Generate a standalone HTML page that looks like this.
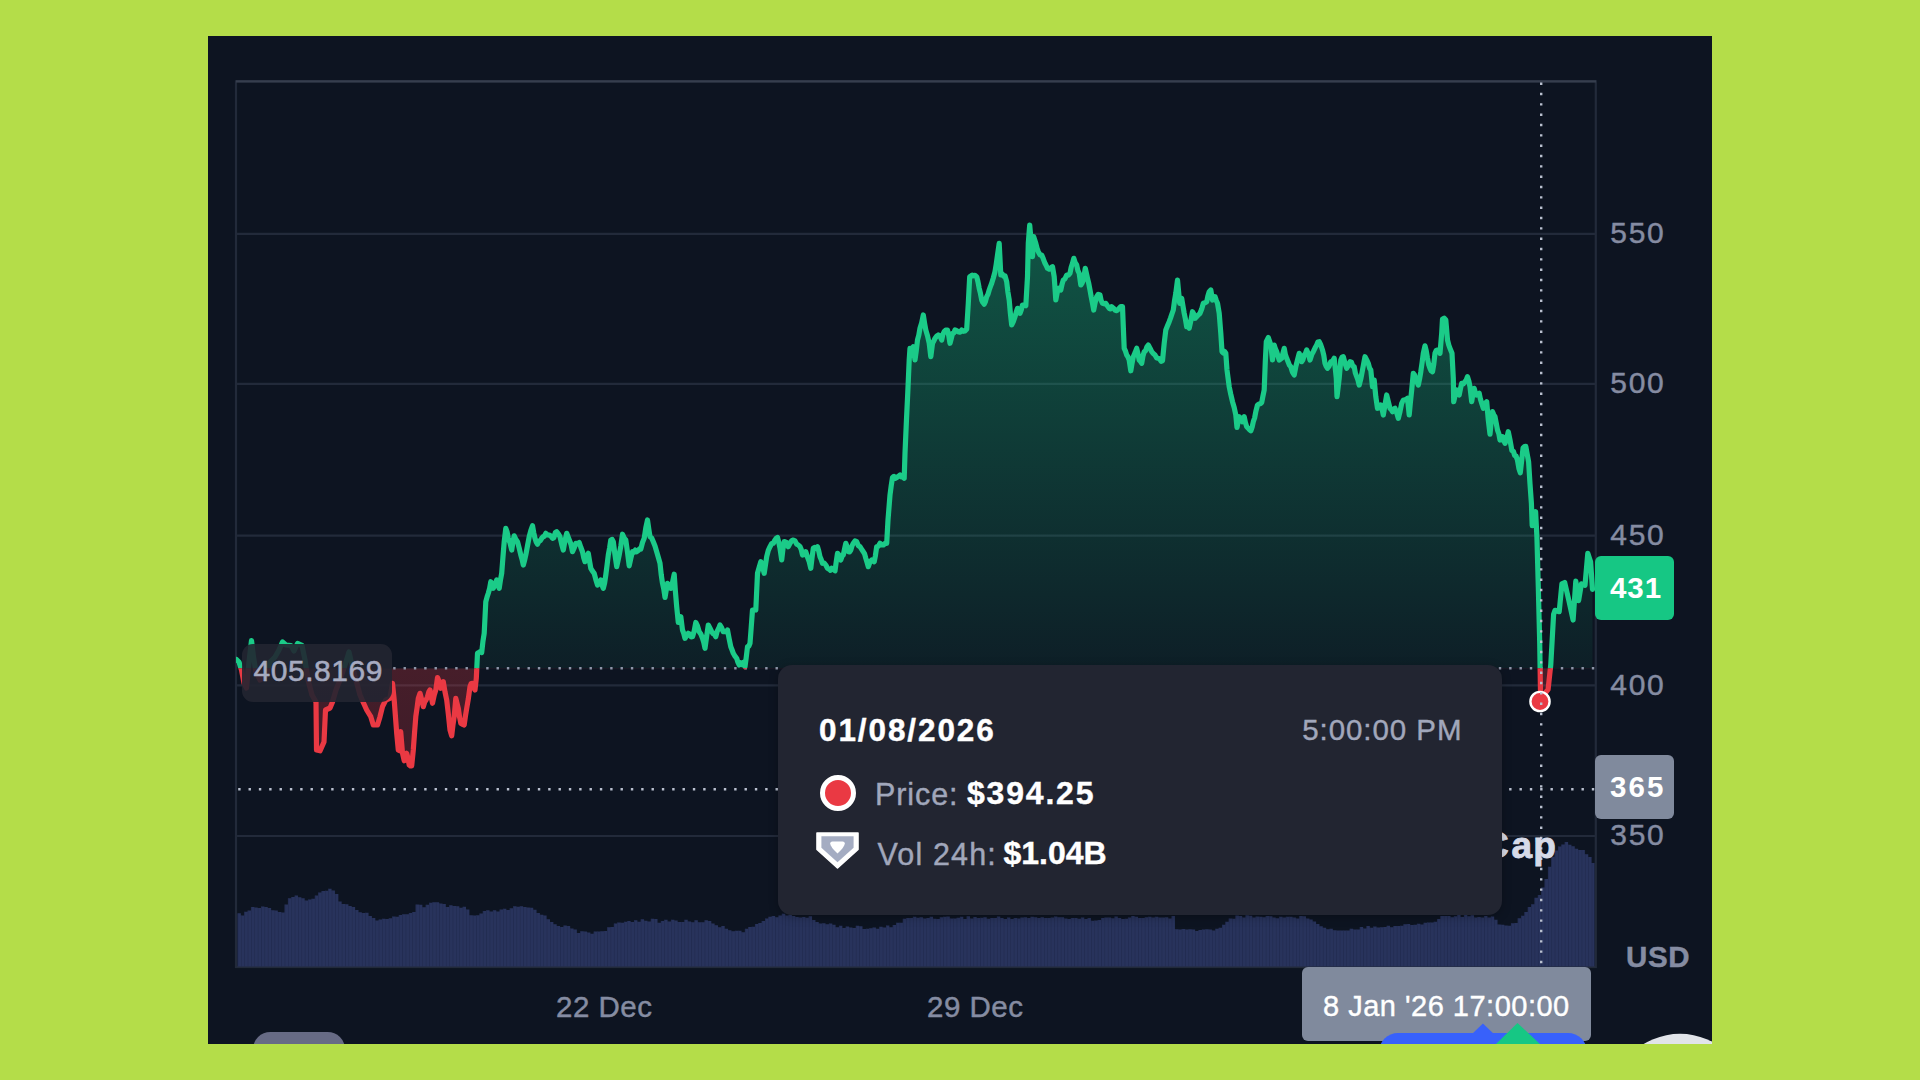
<!DOCTYPE html>
<html lang="en">
<head>
<meta charset="utf-8">
<title>Chart</title>
<style>
html,body{margin:0;padding:0;}
body{width:1920px;height:1080px;overflow:hidden;background:#b4dd49;font-family:"Liberation Sans",sans-serif;position:relative;}
#frame{position:absolute;left:208px;top:36px;width:1504px;height:1008px;background:#0d1421;overflow:hidden;}
#frame svg{position:absolute;left:-208px;top:-36px;width:1920px;height:1080px;}
.abs{position:absolute;white-space:nowrap;}
.ax{color:#858ca2;font-size:30px;letter-spacing:1.7px;line-height:30px;-webkit-text-stroke:0.45px #858ca2;}
.badge{position:absolute;border-radius:6px;color:#fff;font-weight:bold;font-size:29.5px;letter-spacing:1px;line-height:30px;text-align:center;}
#tip{position:absolute;left:570px;top:629px;width:724px;height:250px;background:#222531;border-radius:14px;box-shadow:0 2px 10px rgba(0,0,0,.25);}
</style>
</head>
<body>
<div id="frame">
<svg viewBox="0 0 1920 1080">
<defs>
<linearGradient id="gg" x1="0" y1="81" x2="0" y2="668.3" gradientUnits="userSpaceOnUse">
<stop offset="0" stop-color="#16c784" stop-opacity="0.47"/>
<stop offset="1" stop-color="#16c784" stop-opacity="0.06"/>
</linearGradient>
<linearGradient id="rg" x1="0" y1="668.3" x2="0" y2="770" gradientUnits="userSpaceOnUse">
<stop offset="0" stop-color="#ea3943" stop-opacity="0.26"/>
<stop offset="1" stop-color="#ea3943" stop-opacity="0.22"/>
</linearGradient>
<pattern id="stripe" x="237.5" y="0" width="3.36" height="10" patternUnits="userSpaceOnUse"><rect x="0" y="0" width="0.9" height="10" fill="#1d2748" opacity="0.55"/></pattern>
<clipPath id="volclip"><path d="M237.50,966.5V913.2H240.86V966.5ZM240.86,966.5V915.4H244.22V966.5ZM244.22,966.5V911.7H247.58V966.5ZM247.58,966.5V910.4H250.94V966.5ZM250.94,966.5V907.1H254.30V966.5ZM254.30,966.5V907.4H257.66V966.5ZM257.66,966.5V907.9H261.02V966.5ZM261.02,966.5V906.5H264.38V966.5ZM264.38,966.5V907.0H267.74V966.5ZM267.74,966.5V908.1H271.10V966.5ZM271.10,966.5V910.2H274.46V966.5ZM274.46,966.5V910.6H277.82V966.5ZM277.82,966.5V912.0H281.18V966.5ZM281.18,966.5V912.4H284.54V966.5ZM284.54,966.5V904.4H287.90V966.5ZM287.90,966.5V898.2H291.26V966.5ZM291.26,966.5V896.9H294.62V966.5ZM294.62,966.5V895.4H297.98V966.5ZM297.98,966.5V897.2H301.34V966.5ZM301.34,966.5V898.3H304.70V966.5ZM304.70,966.5V900.6H308.06V966.5ZM308.06,966.5V899.4H311.42V966.5ZM311.42,966.5V898.8H314.78V966.5ZM314.78,966.5V895.5H318.14V966.5ZM318.14,966.5V892.5H321.50V966.5ZM321.50,966.5V891.1H324.86V966.5ZM324.86,966.5V890.8H328.22V966.5ZM328.22,966.5V888.7H331.58V966.5ZM331.58,966.5V890.6H334.94V966.5ZM334.94,966.5V894.1H338.30V966.5ZM338.30,966.5V901.4H341.66V966.5ZM341.66,966.5V904.1H345.02V966.5ZM345.02,966.5V904.2H348.38V966.5ZM348.38,966.5V906.0H351.74V966.5ZM351.74,966.5V907.1H355.10V966.5ZM355.10,966.5V909.9H358.46V966.5ZM358.46,966.5V912.2H361.82V966.5ZM361.82,966.5V913.0H365.18V966.5ZM365.18,966.5V912.8H368.54V966.5ZM368.54,966.5V916.1H371.90V966.5ZM371.90,966.5V918.0H375.26V966.5ZM375.26,966.5V920.4H378.62V966.5ZM378.62,966.5V919.5H381.98V966.5ZM381.98,966.5V918.8H385.34V966.5ZM385.34,966.5V919.1H388.70V966.5ZM388.70,966.5V918.3H392.06V966.5ZM392.06,966.5V916.4H395.42V966.5ZM395.42,966.5V916.7H398.78V966.5ZM398.78,966.5V915.1H402.14V966.5ZM402.14,966.5V914.3H405.50V966.5ZM405.50,966.5V914.2H408.86V966.5ZM408.86,966.5V913.0H412.22V966.5ZM412.22,966.5V911.9H415.58V966.5ZM415.58,966.5V904.4H418.94V966.5ZM418.94,966.5V904.7H422.30V966.5ZM422.30,966.5V907.3H425.66V966.5ZM425.66,966.5V904.7H429.02V966.5ZM429.02,966.5V902.7H432.38V966.5ZM432.38,966.5V902.2H435.74V966.5ZM435.74,966.5V902.3H439.10V966.5ZM439.10,966.5V903.4H442.46V966.5ZM442.46,966.5V904.1H445.82V966.5ZM445.82,966.5V906.9H449.18V966.5ZM449.18,966.5V905.2H452.54V966.5ZM452.54,966.5V906.1H455.90V966.5ZM455.90,966.5V906.2H459.26V966.5ZM459.26,966.5V907.8H462.62V966.5ZM462.62,966.5V906.7H465.98V966.5ZM465.98,966.5V909.6H469.34V966.5ZM469.34,966.5V915.3H472.70V966.5ZM472.70,966.5V915.4H476.06V966.5ZM476.06,966.5V915.3H479.42V966.5ZM479.42,966.5V913.4H482.78V966.5ZM482.78,966.5V910.9H486.14V966.5ZM486.14,966.5V910.3H489.50V966.5ZM489.50,966.5V911.5H492.86V966.5ZM492.86,966.5V910.2H496.22V966.5ZM496.22,966.5V911.5H499.58V966.5ZM499.58,966.5V909.5H502.94V966.5ZM502.94,966.5V908.7H506.30V966.5ZM506.30,966.5V910.0H509.66V966.5ZM509.66,966.5V908.2H513.02V966.5ZM513.02,966.5V906.3H516.38V966.5ZM516.38,966.5V906.8H519.74V966.5ZM519.74,966.5V906.3H523.10V966.5ZM523.10,966.5V907.1H526.46V966.5ZM526.46,966.5V907.5H529.82V966.5ZM529.82,966.5V907.8H533.18V966.5ZM533.18,966.5V909.8H536.54V966.5ZM536.54,966.5V912.9H539.90V966.5ZM539.90,966.5V914.8H543.26V966.5ZM543.26,966.5V915.5H546.62V966.5ZM546.62,966.5V919.3H549.98V966.5ZM549.98,966.5V922.1H553.34V966.5ZM553.34,966.5V924.3H556.70V966.5ZM556.70,966.5V925.9H560.06V966.5ZM560.06,966.5V927.1H563.42V966.5ZM563.42,966.5V925.5H566.78V966.5ZM566.78,966.5V925.9H570.14V966.5ZM570.14,966.5V928.4H573.50V966.5ZM573.50,966.5V929.4H576.86V966.5ZM576.86,966.5V933.1H580.22V966.5ZM580.22,966.5V931.2H583.58V966.5ZM583.58,966.5V931.5H586.94V966.5ZM586.94,966.5V932.5H590.30V966.5ZM590.30,966.5V933.7H593.66V966.5ZM593.66,966.5V931.5H597.02V966.5ZM597.02,966.5V931.5H600.38V966.5ZM600.38,966.5V931.2H603.74V966.5ZM603.74,966.5V931.1H607.10V966.5ZM607.10,966.5V927.2H610.46V966.5ZM610.46,966.5V926.9H613.82V966.5ZM613.82,966.5V923.5H617.18V966.5ZM617.18,966.5V922.4H620.54V966.5ZM620.54,966.5V922.8H623.90V966.5ZM623.90,966.5V921.7H627.26V966.5ZM627.26,966.5V921.0H630.62V966.5ZM630.62,966.5V922.1H633.98V966.5ZM633.98,966.5V920.3H637.34V966.5ZM637.34,966.5V921.8H640.70V966.5ZM640.70,966.5V919.3H644.06V966.5ZM644.06,966.5V920.8H647.42V966.5ZM647.42,966.5V921.4H650.78V966.5ZM650.78,966.5V918.8H654.14V966.5ZM654.14,966.5V918.9H657.50V966.5ZM657.50,966.5V922.8H660.86V966.5ZM660.86,966.5V921.1H664.22V966.5ZM664.22,966.5V919.7H667.58V966.5ZM667.58,966.5V921.5H670.94V966.5ZM670.94,966.5V919.8H674.30V966.5ZM674.30,966.5V920.6H677.66V966.5ZM677.66,966.5V922.1H681.02V966.5ZM681.02,966.5V922.1H684.38V966.5ZM684.38,966.5V919.8H687.74V966.5ZM687.74,966.5V921.5H691.10V966.5ZM691.10,966.5V922.2H694.46V966.5ZM694.46,966.5V920.2H697.82V966.5ZM697.82,966.5V922.2H701.18V966.5ZM701.18,966.5V922.2H704.54V966.5ZM704.54,966.5V920.3H707.90V966.5ZM707.90,966.5V921.1H711.26V966.5ZM711.26,966.5V923.5H714.62V966.5ZM714.62,966.5V925.2H717.98V966.5ZM717.98,966.5V927.2H721.34V966.5ZM721.34,966.5V925.9H724.70V966.5ZM724.70,966.5V928.8H728.06V966.5ZM728.06,966.5V930.2H731.42V966.5ZM731.42,966.5V931.3H734.78V966.5ZM734.78,966.5V930.7H738.14V966.5ZM738.14,966.5V930.7H741.50V966.5ZM741.50,966.5V932.3H744.86V966.5ZM744.86,966.5V928.8H748.22V966.5ZM748.22,966.5V926.9H751.58V966.5ZM751.58,966.5V926.7H754.94V966.5ZM754.94,966.5V924.1H758.30V966.5ZM758.30,966.5V923.1H761.66V966.5ZM761.66,966.5V921.1H765.02V966.5ZM765.02,966.5V918.4H768.38V966.5ZM768.38,966.5V916.7H771.74V966.5ZM771.74,966.5V916.1H775.10V966.5ZM775.10,966.5V917.2H778.46V966.5ZM778.46,966.5V915.5H781.82V966.5ZM781.82,966.5V913.8H785.18V966.5ZM785.18,966.5V915.4H788.54V966.5ZM788.54,966.5V914.7H791.90V966.5ZM791.90,966.5V915.9H795.26V966.5ZM795.26,966.5V917.0H798.62V966.5ZM798.62,966.5V917.4H801.98V966.5ZM801.98,966.5V916.9H805.34V966.5ZM805.34,966.5V917.7H808.70V966.5ZM808.70,966.5V916.3H812.06V966.5ZM812.06,966.5V920.0H815.42V966.5ZM815.42,966.5V922.1H818.78V966.5ZM818.78,966.5V923.5H822.14V966.5ZM822.14,966.5V923.2H825.50V966.5ZM825.50,966.5V924.2H828.86V966.5ZM828.86,966.5V923.5H832.22V966.5ZM832.22,966.5V924.8H835.58V966.5ZM835.58,966.5V927.2H838.94V966.5ZM838.94,966.5V925.8H842.30V966.5ZM842.30,966.5V927.9H845.66V966.5ZM845.66,966.5V926.6H849.02V966.5ZM849.02,966.5V927.5H852.38V966.5ZM852.38,966.5V928.1H855.74V966.5ZM855.74,966.5V925.8H859.10V966.5ZM859.10,966.5V926.3H862.46V966.5ZM862.46,966.5V929.1H865.82V966.5ZM865.82,966.5V928.8H869.18V966.5ZM869.18,966.5V928.3H872.54V966.5ZM872.54,966.5V927.6H875.90V966.5ZM875.90,966.5V928.7H879.26V966.5ZM879.26,966.5V926.8H882.62V966.5ZM882.62,966.5V927.4H885.98V966.5ZM885.98,966.5V925.4H889.34V966.5ZM889.34,966.5V927.3H892.70V966.5ZM892.70,966.5V925.0H896.06V966.5ZM896.06,966.5V922.8H899.42V966.5ZM899.42,966.5V922.7H902.78V966.5ZM902.78,966.5V918.8H906.14V966.5ZM906.14,966.5V917.9H909.50V966.5ZM909.50,966.5V918.1H912.86V966.5ZM912.86,966.5V916.8H916.22V966.5ZM916.22,966.5V917.8H919.58V966.5ZM919.58,966.5V917.2H922.94V966.5ZM922.94,966.5V918.6H926.30V966.5ZM926.30,966.5V917.9H929.66V966.5ZM929.66,966.5V916.8H933.02V966.5ZM933.02,966.5V918.7H936.38V966.5ZM936.38,966.5V918.9H939.74V966.5ZM939.74,966.5V917.3H943.10V966.5ZM943.10,966.5V916.8H946.46V966.5ZM946.46,966.5V916.6H949.82V966.5ZM949.82,966.5V918.4H953.18V966.5ZM953.18,966.5V918.4H956.54V966.5ZM956.54,966.5V917.8H959.90V966.5ZM959.90,966.5V916.7H963.26V966.5ZM963.26,966.5V919.0H966.62V966.5ZM966.62,966.5V916.3H969.98V966.5ZM969.98,966.5V918.6H973.34V966.5ZM973.34,966.5V917.1H976.70V966.5ZM976.70,966.5V918.0H980.06V966.5ZM980.06,966.5V917.7H983.42V966.5ZM983.42,966.5V917.3H986.78V966.5ZM986.78,966.5V918.7H990.14V966.5ZM990.14,966.5V917.9H993.50V966.5ZM993.50,966.5V917.9H996.86V966.5ZM996.86,966.5V916.6H1000.22V966.5ZM1000.22,966.5V917.9H1003.58V966.5ZM1003.58,966.5V918.9H1006.94V966.5ZM1006.94,966.5V917.5H1010.30V966.5ZM1010.30,966.5V918.9H1013.66V966.5ZM1013.66,966.5V918.0H1017.02V966.5ZM1017.02,966.5V918.4H1020.38V966.5ZM1020.38,966.5V917.4H1023.74V966.5ZM1023.74,966.5V917.2H1027.10V966.5ZM1027.10,966.5V918.0H1030.46V966.5ZM1030.46,966.5V916.8H1033.82V966.5ZM1033.82,966.5V917.3H1037.18V966.5ZM1037.18,966.5V918.0H1040.54V966.5ZM1040.54,966.5V917.3H1043.90V966.5ZM1043.90,966.5V918.0H1047.26V966.5ZM1047.26,966.5V918.1H1050.62V966.5ZM1050.62,966.5V917.5H1053.98V966.5ZM1053.98,966.5V916.4H1057.34V966.5ZM1057.34,966.5V917.2H1060.70V966.5ZM1060.70,966.5V917.2H1064.06V966.5ZM1064.06,966.5V918.5H1067.42V966.5ZM1067.42,966.5V919.1H1070.78V966.5ZM1070.78,966.5V918.0H1074.14V966.5ZM1074.14,966.5V918.1H1077.50V966.5ZM1077.50,966.5V918.7H1080.86V966.5ZM1080.86,966.5V917.5H1084.22V966.5ZM1084.22,966.5V919.1H1087.58V966.5ZM1087.58,966.5V918.0H1090.94V966.5ZM1090.94,966.5V920.8H1094.30V966.5ZM1094.30,966.5V920.4H1097.66V966.5ZM1097.66,966.5V919.9H1101.02V966.5ZM1101.02,966.5V918.1H1104.38V966.5ZM1104.38,966.5V917.4H1107.74V966.5ZM1107.74,966.5V917.5H1111.10V966.5ZM1111.10,966.5V918.3H1114.46V966.5ZM1114.46,966.5V916.4H1117.82V966.5ZM1117.82,966.5V918.0H1121.18V966.5ZM1121.18,966.5V919.0H1124.54V966.5ZM1124.54,966.5V918.8H1127.90V966.5ZM1127.90,966.5V917.5H1131.26V966.5ZM1131.26,966.5V916.1H1134.62V966.5ZM1134.62,966.5V916.8H1137.98V966.5ZM1137.98,966.5V917.9H1141.34V966.5ZM1141.34,966.5V917.9H1144.70V966.5ZM1144.70,966.5V917.2H1148.06V966.5ZM1148.06,966.5V916.8H1151.42V966.5ZM1151.42,966.5V917.6H1154.78V966.5ZM1154.78,966.5V916.8H1158.14V966.5ZM1158.14,966.5V917.5H1161.50V966.5ZM1161.50,966.5V917.5H1164.86V966.5ZM1164.86,966.5V917.3H1168.22V966.5ZM1168.22,966.5V918.4H1171.58V966.5ZM1171.58,966.5V916.0H1174.94V966.5ZM1174.94,966.5V929.3H1178.30V966.5ZM1178.30,966.5V929.6H1181.66V966.5ZM1181.66,966.5V928.9H1185.02V966.5ZM1185.02,966.5V929.5H1188.38V966.5ZM1188.38,966.5V929.3H1191.74V966.5ZM1191.74,966.5V929.6H1195.10V966.5ZM1195.10,966.5V931.1H1198.46V966.5ZM1198.46,966.5V930.1H1201.82V966.5ZM1201.82,966.5V929.5H1205.18V966.5ZM1205.18,966.5V929.2H1208.54V966.5ZM1208.54,966.5V929.6H1211.90V966.5ZM1211.90,966.5V930.6H1215.26V966.5ZM1215.26,966.5V928.8H1218.62V966.5ZM1218.62,966.5V927.7H1221.98V966.5ZM1221.98,966.5V924.8H1225.34V966.5ZM1225.34,966.5V921.8H1228.70V966.5ZM1228.70,966.5V918.5H1232.06V966.5ZM1232.06,966.5V918.8H1235.42V966.5ZM1235.42,966.5V915.6H1238.78V966.5ZM1238.78,966.5V916.1H1242.14V966.5ZM1242.14,966.5V917.5H1245.50V966.5ZM1245.50,966.5V915.3H1248.86V966.5ZM1248.86,966.5V915.8H1252.22V966.5ZM1252.22,966.5V917.6H1255.58V966.5ZM1255.58,966.5V916.4H1258.94V966.5ZM1258.94,966.5V916.8H1262.30V966.5ZM1262.30,966.5V917.2H1265.66V966.5ZM1265.66,966.5V915.9H1269.02V966.5ZM1269.02,966.5V916.3H1272.38V966.5ZM1272.38,966.5V917.5H1275.74V966.5ZM1275.74,966.5V918.2H1279.10V966.5ZM1279.10,966.5V916.8H1282.46V966.5ZM1282.46,966.5V917.4H1285.82V966.5ZM1285.82,966.5V916.8H1289.18V966.5ZM1289.18,966.5V916.7H1292.54V966.5ZM1292.54,966.5V917.6H1295.90V966.5ZM1295.90,966.5V918.6H1299.26V966.5ZM1299.26,966.5V916.1H1302.62V966.5ZM1302.62,966.5V916.3H1305.98V966.5ZM1305.98,966.5V918.6H1309.34V966.5ZM1309.34,966.5V919.4H1312.70V966.5ZM1312.70,966.5V921.4H1316.06V966.5ZM1316.06,966.5V924.0H1319.42V966.5ZM1319.42,966.5V926.3H1322.78V966.5ZM1322.78,966.5V927.8H1326.14V966.5ZM1326.14,966.5V929.3H1329.50V966.5ZM1329.50,966.5V928.7H1332.86V966.5ZM1332.86,966.5V930.2H1336.22V966.5ZM1336.22,966.5V930.5H1339.58V966.5ZM1339.58,966.5V930.4H1342.94V966.5ZM1342.94,966.5V930.6H1346.30V966.5ZM1346.30,966.5V930.5H1349.66V966.5ZM1349.66,966.5V928.7H1353.02V966.5ZM1353.02,966.5V929.6H1356.38V966.5ZM1356.38,966.5V929.4H1359.74V966.5ZM1359.74,966.5V927.1H1363.10V966.5ZM1363.10,966.5V928.5H1366.46V966.5ZM1366.46,966.5V926.0H1369.82V966.5ZM1369.82,966.5V927.7H1373.18V966.5ZM1373.18,966.5V926.4H1376.54V966.5ZM1376.54,966.5V927.4H1379.90V966.5ZM1379.90,966.5V927.3H1383.26V966.5ZM1383.26,966.5V926.9H1386.62V966.5ZM1386.62,966.5V925.7H1389.98V966.5ZM1389.98,966.5V927.3H1393.34V966.5ZM1393.34,966.5V926.1H1396.70V966.5ZM1396.70,966.5V926.0H1400.06V966.5ZM1400.06,966.5V925.7H1403.42V966.5ZM1403.42,966.5V924.3H1406.78V966.5ZM1406.78,966.5V924.1H1410.14V966.5ZM1410.14,966.5V925.0H1413.50V966.5ZM1413.50,966.5V924.8H1416.86V966.5ZM1416.86,966.5V923.7H1420.22V966.5ZM1420.22,966.5V924.4H1423.58V966.5ZM1423.58,966.5V922.8H1426.94V966.5ZM1426.94,966.5V922.5H1430.30V966.5ZM1430.30,966.5V922.4H1433.66V966.5ZM1433.66,966.5V921.8H1437.02V966.5ZM1437.02,966.5V919.1H1440.38V966.5ZM1440.38,966.5V916.1H1443.74V966.5ZM1443.74,966.5V915.9H1447.10V966.5ZM1447.10,966.5V915.9H1450.46V966.5ZM1450.46,966.5V917.3H1453.82V966.5ZM1453.82,966.5V916.2H1457.18V966.5ZM1457.18,966.5V915.1H1460.54V966.5ZM1460.54,966.5V917.1H1463.90V966.5ZM1463.90,966.5V915.1H1467.26V966.5ZM1467.26,966.5V916.3H1470.62V966.5ZM1470.62,966.5V915.2H1473.98V966.5ZM1473.98,966.5V917.4H1477.34V966.5ZM1477.34,966.5V917.0H1480.70V966.5ZM1480.70,966.5V917.6H1484.06V966.5ZM1484.06,966.5V915.9H1487.42V966.5ZM1487.42,966.5V917.4H1490.78V966.5ZM1490.78,966.5V916.6H1494.14V966.5ZM1494.14,966.5V919.8H1497.50V966.5ZM1497.50,966.5V924.6H1500.86V966.5ZM1500.86,966.5V924.8H1504.22V966.5ZM1504.22,966.5V925.6H1507.58V966.5ZM1507.58,966.5V925.8H1510.94V966.5ZM1510.94,966.5V923.3H1514.30V966.5ZM1514.30,966.5V923.1H1517.66V966.5ZM1517.66,966.5V918.2H1521.02V966.5ZM1521.02,966.5V915.8H1524.38V966.5ZM1524.38,966.5V912.1H1527.74V966.5ZM1527.74,966.5V907.1H1531.10V966.5ZM1531.10,966.5V904.3H1534.46V966.5ZM1534.46,966.5V897.8H1537.82V966.5ZM1537.82,966.5V895.1H1541.18V966.5ZM1541.18,966.5V887.6H1544.54V966.5ZM1544.54,966.5V878.9H1547.90V966.5ZM1547.90,966.5V866.8H1551.26V966.5ZM1551.26,966.5V856.8H1554.62V966.5ZM1554.62,966.5V850.6H1557.98V966.5ZM1557.98,966.5V846.5H1561.34V966.5ZM1561.34,966.5V844.4H1564.70V966.5ZM1564.70,966.5V842.0H1568.06V966.5ZM1568.06,966.5V844.8H1571.42V966.5ZM1571.42,966.5V846.2H1574.78V966.5ZM1574.78,966.5V848.7H1578.14V966.5ZM1578.14,966.5V850.1H1581.50V966.5ZM1581.50,966.5V850.0H1584.86V966.5ZM1584.86,966.5V854.2H1588.22V966.5ZM1588.22,966.5V857.1H1591.58V966.5ZM1591.58,966.5V862.9H1594.50V966.5Z"/></clipPath>
<clipPath id="up"><rect x="236" y="81" width="1360" height="587.3"/></clipPath>
<clipPath id="dn"><rect x="236" y="668.3" width="1360" height="298.70000000000005"/></clipPath>
</defs>
<!-- grid -->
<g stroke="#222a3a" stroke-width="2.2" fill="none">
<line x1="236" y1="233.8" x2="1596" y2="233.8"/>
<line x1="236" y1="383.8" x2="1596" y2="383.8"/>
<line x1="236" y1="535.6" x2="1596" y2="535.6"/>
<line x1="236" y1="685.4" x2="1596" y2="685.4"/>
<line x1="236" y1="836" x2="1596" y2="836"/>
<rect x="236" y="81.3" width="1359.8" height="885.7"/>
</g>
<line x1="236" y1="81.3" x2="1596" y2="81.3" stroke="#363e4e" stroke-width="2.2"/>
<!-- volume -->
<path d="M237.50,966.5V913.2H240.86V966.5ZM240.86,966.5V915.4H244.22V966.5ZM244.22,966.5V911.7H247.58V966.5ZM247.58,966.5V910.4H250.94V966.5ZM250.94,966.5V907.1H254.30V966.5ZM254.30,966.5V907.4H257.66V966.5ZM257.66,966.5V907.9H261.02V966.5ZM261.02,966.5V906.5H264.38V966.5ZM264.38,966.5V907.0H267.74V966.5ZM267.74,966.5V908.1H271.10V966.5ZM271.10,966.5V910.2H274.46V966.5ZM274.46,966.5V910.6H277.82V966.5ZM277.82,966.5V912.0H281.18V966.5ZM281.18,966.5V912.4H284.54V966.5ZM284.54,966.5V904.4H287.90V966.5ZM287.90,966.5V898.2H291.26V966.5ZM291.26,966.5V896.9H294.62V966.5ZM294.62,966.5V895.4H297.98V966.5ZM297.98,966.5V897.2H301.34V966.5ZM301.34,966.5V898.3H304.70V966.5ZM304.70,966.5V900.6H308.06V966.5ZM308.06,966.5V899.4H311.42V966.5ZM311.42,966.5V898.8H314.78V966.5ZM314.78,966.5V895.5H318.14V966.5ZM318.14,966.5V892.5H321.50V966.5ZM321.50,966.5V891.1H324.86V966.5ZM324.86,966.5V890.8H328.22V966.5ZM328.22,966.5V888.7H331.58V966.5ZM331.58,966.5V890.6H334.94V966.5ZM334.94,966.5V894.1H338.30V966.5ZM338.30,966.5V901.4H341.66V966.5ZM341.66,966.5V904.1H345.02V966.5ZM345.02,966.5V904.2H348.38V966.5ZM348.38,966.5V906.0H351.74V966.5ZM351.74,966.5V907.1H355.10V966.5ZM355.10,966.5V909.9H358.46V966.5ZM358.46,966.5V912.2H361.82V966.5ZM361.82,966.5V913.0H365.18V966.5ZM365.18,966.5V912.8H368.54V966.5ZM368.54,966.5V916.1H371.90V966.5ZM371.90,966.5V918.0H375.26V966.5ZM375.26,966.5V920.4H378.62V966.5ZM378.62,966.5V919.5H381.98V966.5ZM381.98,966.5V918.8H385.34V966.5ZM385.34,966.5V919.1H388.70V966.5ZM388.70,966.5V918.3H392.06V966.5ZM392.06,966.5V916.4H395.42V966.5ZM395.42,966.5V916.7H398.78V966.5ZM398.78,966.5V915.1H402.14V966.5ZM402.14,966.5V914.3H405.50V966.5ZM405.50,966.5V914.2H408.86V966.5ZM408.86,966.5V913.0H412.22V966.5ZM412.22,966.5V911.9H415.58V966.5ZM415.58,966.5V904.4H418.94V966.5ZM418.94,966.5V904.7H422.30V966.5ZM422.30,966.5V907.3H425.66V966.5ZM425.66,966.5V904.7H429.02V966.5ZM429.02,966.5V902.7H432.38V966.5ZM432.38,966.5V902.2H435.74V966.5ZM435.74,966.5V902.3H439.10V966.5ZM439.10,966.5V903.4H442.46V966.5ZM442.46,966.5V904.1H445.82V966.5ZM445.82,966.5V906.9H449.18V966.5ZM449.18,966.5V905.2H452.54V966.5ZM452.54,966.5V906.1H455.90V966.5ZM455.90,966.5V906.2H459.26V966.5ZM459.26,966.5V907.8H462.62V966.5ZM462.62,966.5V906.7H465.98V966.5ZM465.98,966.5V909.6H469.34V966.5ZM469.34,966.5V915.3H472.70V966.5ZM472.70,966.5V915.4H476.06V966.5ZM476.06,966.5V915.3H479.42V966.5ZM479.42,966.5V913.4H482.78V966.5ZM482.78,966.5V910.9H486.14V966.5ZM486.14,966.5V910.3H489.50V966.5ZM489.50,966.5V911.5H492.86V966.5ZM492.86,966.5V910.2H496.22V966.5ZM496.22,966.5V911.5H499.58V966.5ZM499.58,966.5V909.5H502.94V966.5ZM502.94,966.5V908.7H506.30V966.5ZM506.30,966.5V910.0H509.66V966.5ZM509.66,966.5V908.2H513.02V966.5ZM513.02,966.5V906.3H516.38V966.5ZM516.38,966.5V906.8H519.74V966.5ZM519.74,966.5V906.3H523.10V966.5ZM523.10,966.5V907.1H526.46V966.5ZM526.46,966.5V907.5H529.82V966.5ZM529.82,966.5V907.8H533.18V966.5ZM533.18,966.5V909.8H536.54V966.5ZM536.54,966.5V912.9H539.90V966.5ZM539.90,966.5V914.8H543.26V966.5ZM543.26,966.5V915.5H546.62V966.5ZM546.62,966.5V919.3H549.98V966.5ZM549.98,966.5V922.1H553.34V966.5ZM553.34,966.5V924.3H556.70V966.5ZM556.70,966.5V925.9H560.06V966.5ZM560.06,966.5V927.1H563.42V966.5ZM563.42,966.5V925.5H566.78V966.5ZM566.78,966.5V925.9H570.14V966.5ZM570.14,966.5V928.4H573.50V966.5ZM573.50,966.5V929.4H576.86V966.5ZM576.86,966.5V933.1H580.22V966.5ZM580.22,966.5V931.2H583.58V966.5ZM583.58,966.5V931.5H586.94V966.5ZM586.94,966.5V932.5H590.30V966.5ZM590.30,966.5V933.7H593.66V966.5ZM593.66,966.5V931.5H597.02V966.5ZM597.02,966.5V931.5H600.38V966.5ZM600.38,966.5V931.2H603.74V966.5ZM603.74,966.5V931.1H607.10V966.5ZM607.10,966.5V927.2H610.46V966.5ZM610.46,966.5V926.9H613.82V966.5ZM613.82,966.5V923.5H617.18V966.5ZM617.18,966.5V922.4H620.54V966.5ZM620.54,966.5V922.8H623.90V966.5ZM623.90,966.5V921.7H627.26V966.5ZM627.26,966.5V921.0H630.62V966.5ZM630.62,966.5V922.1H633.98V966.5ZM633.98,966.5V920.3H637.34V966.5ZM637.34,966.5V921.8H640.70V966.5ZM640.70,966.5V919.3H644.06V966.5ZM644.06,966.5V920.8H647.42V966.5ZM647.42,966.5V921.4H650.78V966.5ZM650.78,966.5V918.8H654.14V966.5ZM654.14,966.5V918.9H657.50V966.5ZM657.50,966.5V922.8H660.86V966.5ZM660.86,966.5V921.1H664.22V966.5ZM664.22,966.5V919.7H667.58V966.5ZM667.58,966.5V921.5H670.94V966.5ZM670.94,966.5V919.8H674.30V966.5ZM674.30,966.5V920.6H677.66V966.5ZM677.66,966.5V922.1H681.02V966.5ZM681.02,966.5V922.1H684.38V966.5ZM684.38,966.5V919.8H687.74V966.5ZM687.74,966.5V921.5H691.10V966.5ZM691.10,966.5V922.2H694.46V966.5ZM694.46,966.5V920.2H697.82V966.5ZM697.82,966.5V922.2H701.18V966.5ZM701.18,966.5V922.2H704.54V966.5ZM704.54,966.5V920.3H707.90V966.5ZM707.90,966.5V921.1H711.26V966.5ZM711.26,966.5V923.5H714.62V966.5ZM714.62,966.5V925.2H717.98V966.5ZM717.98,966.5V927.2H721.34V966.5ZM721.34,966.5V925.9H724.70V966.5ZM724.70,966.5V928.8H728.06V966.5ZM728.06,966.5V930.2H731.42V966.5ZM731.42,966.5V931.3H734.78V966.5ZM734.78,966.5V930.7H738.14V966.5ZM738.14,966.5V930.7H741.50V966.5ZM741.50,966.5V932.3H744.86V966.5ZM744.86,966.5V928.8H748.22V966.5ZM748.22,966.5V926.9H751.58V966.5ZM751.58,966.5V926.7H754.94V966.5ZM754.94,966.5V924.1H758.30V966.5ZM758.30,966.5V923.1H761.66V966.5ZM761.66,966.5V921.1H765.02V966.5ZM765.02,966.5V918.4H768.38V966.5ZM768.38,966.5V916.7H771.74V966.5ZM771.74,966.5V916.1H775.10V966.5ZM775.10,966.5V917.2H778.46V966.5ZM778.46,966.5V915.5H781.82V966.5ZM781.82,966.5V913.8H785.18V966.5ZM785.18,966.5V915.4H788.54V966.5ZM788.54,966.5V914.7H791.90V966.5ZM791.90,966.5V915.9H795.26V966.5ZM795.26,966.5V917.0H798.62V966.5ZM798.62,966.5V917.4H801.98V966.5ZM801.98,966.5V916.9H805.34V966.5ZM805.34,966.5V917.7H808.70V966.5ZM808.70,966.5V916.3H812.06V966.5ZM812.06,966.5V920.0H815.42V966.5ZM815.42,966.5V922.1H818.78V966.5ZM818.78,966.5V923.5H822.14V966.5ZM822.14,966.5V923.2H825.50V966.5ZM825.50,966.5V924.2H828.86V966.5ZM828.86,966.5V923.5H832.22V966.5ZM832.22,966.5V924.8H835.58V966.5ZM835.58,966.5V927.2H838.94V966.5ZM838.94,966.5V925.8H842.30V966.5ZM842.30,966.5V927.9H845.66V966.5ZM845.66,966.5V926.6H849.02V966.5ZM849.02,966.5V927.5H852.38V966.5ZM852.38,966.5V928.1H855.74V966.5ZM855.74,966.5V925.8H859.10V966.5ZM859.10,966.5V926.3H862.46V966.5ZM862.46,966.5V929.1H865.82V966.5ZM865.82,966.5V928.8H869.18V966.5ZM869.18,966.5V928.3H872.54V966.5ZM872.54,966.5V927.6H875.90V966.5ZM875.90,966.5V928.7H879.26V966.5ZM879.26,966.5V926.8H882.62V966.5ZM882.62,966.5V927.4H885.98V966.5ZM885.98,966.5V925.4H889.34V966.5ZM889.34,966.5V927.3H892.70V966.5ZM892.70,966.5V925.0H896.06V966.5ZM896.06,966.5V922.8H899.42V966.5ZM899.42,966.5V922.7H902.78V966.5ZM902.78,966.5V918.8H906.14V966.5ZM906.14,966.5V917.9H909.50V966.5ZM909.50,966.5V918.1H912.86V966.5ZM912.86,966.5V916.8H916.22V966.5ZM916.22,966.5V917.8H919.58V966.5ZM919.58,966.5V917.2H922.94V966.5ZM922.94,966.5V918.6H926.30V966.5ZM926.30,966.5V917.9H929.66V966.5ZM929.66,966.5V916.8H933.02V966.5ZM933.02,966.5V918.7H936.38V966.5ZM936.38,966.5V918.9H939.74V966.5ZM939.74,966.5V917.3H943.10V966.5ZM943.10,966.5V916.8H946.46V966.5ZM946.46,966.5V916.6H949.82V966.5ZM949.82,966.5V918.4H953.18V966.5ZM953.18,966.5V918.4H956.54V966.5ZM956.54,966.5V917.8H959.90V966.5ZM959.90,966.5V916.7H963.26V966.5ZM963.26,966.5V919.0H966.62V966.5ZM966.62,966.5V916.3H969.98V966.5ZM969.98,966.5V918.6H973.34V966.5ZM973.34,966.5V917.1H976.70V966.5ZM976.70,966.5V918.0H980.06V966.5ZM980.06,966.5V917.7H983.42V966.5ZM983.42,966.5V917.3H986.78V966.5ZM986.78,966.5V918.7H990.14V966.5ZM990.14,966.5V917.9H993.50V966.5ZM993.50,966.5V917.9H996.86V966.5ZM996.86,966.5V916.6H1000.22V966.5ZM1000.22,966.5V917.9H1003.58V966.5ZM1003.58,966.5V918.9H1006.94V966.5ZM1006.94,966.5V917.5H1010.30V966.5ZM1010.30,966.5V918.9H1013.66V966.5ZM1013.66,966.5V918.0H1017.02V966.5ZM1017.02,966.5V918.4H1020.38V966.5ZM1020.38,966.5V917.4H1023.74V966.5ZM1023.74,966.5V917.2H1027.10V966.5ZM1027.10,966.5V918.0H1030.46V966.5ZM1030.46,966.5V916.8H1033.82V966.5ZM1033.82,966.5V917.3H1037.18V966.5ZM1037.18,966.5V918.0H1040.54V966.5ZM1040.54,966.5V917.3H1043.90V966.5ZM1043.90,966.5V918.0H1047.26V966.5ZM1047.26,966.5V918.1H1050.62V966.5ZM1050.62,966.5V917.5H1053.98V966.5ZM1053.98,966.5V916.4H1057.34V966.5ZM1057.34,966.5V917.2H1060.70V966.5ZM1060.70,966.5V917.2H1064.06V966.5ZM1064.06,966.5V918.5H1067.42V966.5ZM1067.42,966.5V919.1H1070.78V966.5ZM1070.78,966.5V918.0H1074.14V966.5ZM1074.14,966.5V918.1H1077.50V966.5ZM1077.50,966.5V918.7H1080.86V966.5ZM1080.86,966.5V917.5H1084.22V966.5ZM1084.22,966.5V919.1H1087.58V966.5ZM1087.58,966.5V918.0H1090.94V966.5ZM1090.94,966.5V920.8H1094.30V966.5ZM1094.30,966.5V920.4H1097.66V966.5ZM1097.66,966.5V919.9H1101.02V966.5ZM1101.02,966.5V918.1H1104.38V966.5ZM1104.38,966.5V917.4H1107.74V966.5ZM1107.74,966.5V917.5H1111.10V966.5ZM1111.10,966.5V918.3H1114.46V966.5ZM1114.46,966.5V916.4H1117.82V966.5ZM1117.82,966.5V918.0H1121.18V966.5ZM1121.18,966.5V919.0H1124.54V966.5ZM1124.54,966.5V918.8H1127.90V966.5ZM1127.90,966.5V917.5H1131.26V966.5ZM1131.26,966.5V916.1H1134.62V966.5ZM1134.62,966.5V916.8H1137.98V966.5ZM1137.98,966.5V917.9H1141.34V966.5ZM1141.34,966.5V917.9H1144.70V966.5ZM1144.70,966.5V917.2H1148.06V966.5ZM1148.06,966.5V916.8H1151.42V966.5ZM1151.42,966.5V917.6H1154.78V966.5ZM1154.78,966.5V916.8H1158.14V966.5ZM1158.14,966.5V917.5H1161.50V966.5ZM1161.50,966.5V917.5H1164.86V966.5ZM1164.86,966.5V917.3H1168.22V966.5ZM1168.22,966.5V918.4H1171.58V966.5ZM1171.58,966.5V916.0H1174.94V966.5ZM1174.94,966.5V929.3H1178.30V966.5ZM1178.30,966.5V929.6H1181.66V966.5ZM1181.66,966.5V928.9H1185.02V966.5ZM1185.02,966.5V929.5H1188.38V966.5ZM1188.38,966.5V929.3H1191.74V966.5ZM1191.74,966.5V929.6H1195.10V966.5ZM1195.10,966.5V931.1H1198.46V966.5ZM1198.46,966.5V930.1H1201.82V966.5ZM1201.82,966.5V929.5H1205.18V966.5ZM1205.18,966.5V929.2H1208.54V966.5ZM1208.54,966.5V929.6H1211.90V966.5ZM1211.90,966.5V930.6H1215.26V966.5ZM1215.26,966.5V928.8H1218.62V966.5ZM1218.62,966.5V927.7H1221.98V966.5ZM1221.98,966.5V924.8H1225.34V966.5ZM1225.34,966.5V921.8H1228.70V966.5ZM1228.70,966.5V918.5H1232.06V966.5ZM1232.06,966.5V918.8H1235.42V966.5ZM1235.42,966.5V915.6H1238.78V966.5ZM1238.78,966.5V916.1H1242.14V966.5ZM1242.14,966.5V917.5H1245.50V966.5ZM1245.50,966.5V915.3H1248.86V966.5ZM1248.86,966.5V915.8H1252.22V966.5ZM1252.22,966.5V917.6H1255.58V966.5ZM1255.58,966.5V916.4H1258.94V966.5ZM1258.94,966.5V916.8H1262.30V966.5ZM1262.30,966.5V917.2H1265.66V966.5ZM1265.66,966.5V915.9H1269.02V966.5ZM1269.02,966.5V916.3H1272.38V966.5ZM1272.38,966.5V917.5H1275.74V966.5ZM1275.74,966.5V918.2H1279.10V966.5ZM1279.10,966.5V916.8H1282.46V966.5ZM1282.46,966.5V917.4H1285.82V966.5ZM1285.82,966.5V916.8H1289.18V966.5ZM1289.18,966.5V916.7H1292.54V966.5ZM1292.54,966.5V917.6H1295.90V966.5ZM1295.90,966.5V918.6H1299.26V966.5ZM1299.26,966.5V916.1H1302.62V966.5ZM1302.62,966.5V916.3H1305.98V966.5ZM1305.98,966.5V918.6H1309.34V966.5ZM1309.34,966.5V919.4H1312.70V966.5ZM1312.70,966.5V921.4H1316.06V966.5ZM1316.06,966.5V924.0H1319.42V966.5ZM1319.42,966.5V926.3H1322.78V966.5ZM1322.78,966.5V927.8H1326.14V966.5ZM1326.14,966.5V929.3H1329.50V966.5ZM1329.50,966.5V928.7H1332.86V966.5ZM1332.86,966.5V930.2H1336.22V966.5ZM1336.22,966.5V930.5H1339.58V966.5ZM1339.58,966.5V930.4H1342.94V966.5ZM1342.94,966.5V930.6H1346.30V966.5ZM1346.30,966.5V930.5H1349.66V966.5ZM1349.66,966.5V928.7H1353.02V966.5ZM1353.02,966.5V929.6H1356.38V966.5ZM1356.38,966.5V929.4H1359.74V966.5ZM1359.74,966.5V927.1H1363.10V966.5ZM1363.10,966.5V928.5H1366.46V966.5ZM1366.46,966.5V926.0H1369.82V966.5ZM1369.82,966.5V927.7H1373.18V966.5ZM1373.18,966.5V926.4H1376.54V966.5ZM1376.54,966.5V927.4H1379.90V966.5ZM1379.90,966.5V927.3H1383.26V966.5ZM1383.26,966.5V926.9H1386.62V966.5ZM1386.62,966.5V925.7H1389.98V966.5ZM1389.98,966.5V927.3H1393.34V966.5ZM1393.34,966.5V926.1H1396.70V966.5ZM1396.70,966.5V926.0H1400.06V966.5ZM1400.06,966.5V925.7H1403.42V966.5ZM1403.42,966.5V924.3H1406.78V966.5ZM1406.78,966.5V924.1H1410.14V966.5ZM1410.14,966.5V925.0H1413.50V966.5ZM1413.50,966.5V924.8H1416.86V966.5ZM1416.86,966.5V923.7H1420.22V966.5ZM1420.22,966.5V924.4H1423.58V966.5ZM1423.58,966.5V922.8H1426.94V966.5ZM1426.94,966.5V922.5H1430.30V966.5ZM1430.30,966.5V922.4H1433.66V966.5ZM1433.66,966.5V921.8H1437.02V966.5ZM1437.02,966.5V919.1H1440.38V966.5ZM1440.38,966.5V916.1H1443.74V966.5ZM1443.74,966.5V915.9H1447.10V966.5ZM1447.10,966.5V915.9H1450.46V966.5ZM1450.46,966.5V917.3H1453.82V966.5ZM1453.82,966.5V916.2H1457.18V966.5ZM1457.18,966.5V915.1H1460.54V966.5ZM1460.54,966.5V917.1H1463.90V966.5ZM1463.90,966.5V915.1H1467.26V966.5ZM1467.26,966.5V916.3H1470.62V966.5ZM1470.62,966.5V915.2H1473.98V966.5ZM1473.98,966.5V917.4H1477.34V966.5ZM1477.34,966.5V917.0H1480.70V966.5ZM1480.70,966.5V917.6H1484.06V966.5ZM1484.06,966.5V915.9H1487.42V966.5ZM1487.42,966.5V917.4H1490.78V966.5ZM1490.78,966.5V916.6H1494.14V966.5ZM1494.14,966.5V919.8H1497.50V966.5ZM1497.50,966.5V924.6H1500.86V966.5ZM1500.86,966.5V924.8H1504.22V966.5ZM1504.22,966.5V925.6H1507.58V966.5ZM1507.58,966.5V925.8H1510.94V966.5ZM1510.94,966.5V923.3H1514.30V966.5ZM1514.30,966.5V923.1H1517.66V966.5ZM1517.66,966.5V918.2H1521.02V966.5ZM1521.02,966.5V915.8H1524.38V966.5ZM1524.38,966.5V912.1H1527.74V966.5ZM1527.74,966.5V907.1H1531.10V966.5ZM1531.10,966.5V904.3H1534.46V966.5ZM1534.46,966.5V897.8H1537.82V966.5ZM1537.82,966.5V895.1H1541.18V966.5ZM1541.18,966.5V887.6H1544.54V966.5ZM1544.54,966.5V878.9H1547.90V966.5ZM1547.90,966.5V866.8H1551.26V966.5ZM1551.26,966.5V856.8H1554.62V966.5ZM1554.62,966.5V850.6H1557.98V966.5ZM1557.98,966.5V846.5H1561.34V966.5ZM1561.34,966.5V844.4H1564.70V966.5ZM1564.70,966.5V842.0H1568.06V966.5ZM1568.06,966.5V844.8H1571.42V966.5ZM1571.42,966.5V846.2H1574.78V966.5ZM1574.78,966.5V848.7H1578.14V966.5ZM1578.14,966.5V850.1H1581.50V966.5ZM1581.50,966.5V850.0H1584.86V966.5ZM1584.86,966.5V854.2H1588.22V966.5ZM1588.22,966.5V857.1H1591.58V966.5ZM1591.58,966.5V862.9H1594.50V966.5Z" fill="#28335c"/>
<g clip-path="url(#volclip)"><rect x="237.5" y="840" width="1357" height="127" fill="url(#stripe)"/></g>
<!-- areas -->
<g clip-path="url(#up)"><path d="M236.5,659.5 L239.0,662.0 L241.5,670.0 L244.0,683.0 L246.5,688.0 L249.0,662.0 L251.5,640.5 L253.5,657.0 L256.0,672.0 L260.0,680.0 L266.0,676.0 L270.0,662.0 L275.0,657.0 L279.0,650.0 L282.5,642.0 L286.0,645.0 L291.0,645.5 L294.0,651.0 L297.5,643.5 L302.0,645.5 L305.0,660.0 L308.0,680.0 L312.0,695.0 L316.0,702.0 L316.5,750.0 L320.0,750.8 L324.0,742.0 L325.5,710.0 L330.0,708.0 L332.5,702.0 L336.0,690.0 L340.0,680.0 L345.0,665.0 L349.0,652.0 L352.0,665.0 L356.0,680.0 L360.0,695.0 L363.3,702.5 L366.7,710.0 L370.8,716.7 L373.3,725.0 L377.5,725.0 L380.0,716.7 L382.5,706.7 L385.8,700.0 L390.0,698.3 L392.5,683.3 L394.2,700.0 L396.7,733.3 L398.3,750.0 L399.7,750.8 L400.7,731.7 L402.5,753.3 L404.2,760.8 L405.4,756.5 L406.7,753.3 L407.9,758.0 L409.2,765.0 L410.4,765.9 L411.7,765.8 L413.3,750.0 L414.6,732.0 L415.8,716.7 L417.1,707.6 L418.3,698.3 L420.0,693.3 L421.7,699.6 L423.3,706.7 L424.7,701.9 L426.1,700.0 L427.5,696.7 L428.8,691.9 L430.0,690.0 L431.2,696.5 L432.5,703.3 L434.2,695.3 L435.8,690.0 L437.5,677.5 L439.2,681.6 L440.8,688.3 L442.1,684.8 L443.3,681.7 L445.0,691.9 L446.7,700.0 L448.3,713.8 L450.0,730.0 L451.7,735.8 L452.9,725.4 L454.2,716.7 L455.8,698.3 L457.1,703.7 L458.3,708.3 L459.6,717.3 L460.8,723.3 L462.5,724.4 L464.2,725.0 L465.4,716.3 L466.7,708.3 L468.3,699.0 L470.0,686.7 L471.2,683.5 L472.5,683.3 L473.8,687.8 L475.0,690.0 L476.3,678.3 L477.5,653.3 L478.9,652.4 L480.3,651.6 L481.7,652.5 L482.9,641.7 L484.2,633.3 L485.8,601.7 L487.1,596.9 L488.3,593.3 L489.6,588.5 L490.8,581.7 L492.1,584.0 L493.3,588.3 L495.0,584.4 L496.7,580.0 L497.9,584.6 L499.2,588.3 L500.4,580.4 L501.7,573.3 L502.9,557.7 L504.2,541.7 L505.8,528.3 L507.1,531.9 L508.3,538.3 L510.0,542.8 L511.7,550.0 L512.9,542.0 L514.2,535.8 L515.8,539.3 L517.5,541.7 L519.2,548.1 L520.8,555.0 L522.1,559.4 L523.3,565.0 L524.6,560.3 L525.8,555.0 L527.5,545.7 L529.2,536.7 L530.8,530.6 L532.5,525.8 L533.8,533.0 L535.0,538.3 L536.2,541.9 L537.5,544.2 L538.9,541.4 L540.3,540.5 L541.7,538.3 L543.1,536.7 L544.4,536.2 L545.8,533.3 L547.5,534.9 L549.2,535.0 L550.8,536.0 L552.5,538.3 L553.9,537.6 L555.3,532.7 L556.7,531.7 L558.3,533.9 L560.0,536.7 L561.7,544.2 L563.3,550.0 L565.0,540.6 L566.7,533.3 L568.3,537.5 L570.0,541.7 L571.2,545.2 L572.5,551.7 L574.2,548.0 L575.8,543.3 L577.5,543.8 L579.2,542.5 L580.8,547.3 L582.5,551.7 L583.8,557.9 L585.0,561.7 L586.7,556.9 L588.3,553.3 L589.6,561.5 L590.8,568.3 L592.5,571.1 L594.2,573.3 L595.8,579.4 L597.5,585.0 L599.2,582.4 L600.8,580.0 L602.1,585.3 L603.3,588.3 L604.6,583.1 L605.8,575.0 L607.1,564.9 L608.3,555.0 L609.6,548.0 L610.8,540.0 L612.1,539.4 L613.3,541.7 L615.0,554.8 L616.7,566.7 L617.9,561.3 L619.2,555.0 L620.8,546.2 L622.5,534.2 L624.2,538.1 L625.8,540.0 L627.5,552.2 L629.2,565.8 L630.8,558.4 L632.5,551.7 L633.9,552.2 L635.3,550.1 L636.7,551.7 L638.1,550.7 L639.4,548.9 L640.8,549.2 L642.5,542.5 L644.2,538.3 L645.8,527.8 L647.5,520.0 L648.8,529.2 L650.0,536.7 L651.7,538.0 L653.3,541.7 L655.0,545.9 L656.7,551.7 L658.3,557.2 L660.0,563.3 L661.2,574.5 L662.5,583.3 L663.8,589.1 L665.0,597.5 L666.2,590.3 L667.5,583.3 L669.2,586.0 L670.8,588.3 L672.5,582.5 L674.2,574.2 L675.4,591.4 L676.7,606.7 L678.3,622.5 L679.6,620.7 L680.8,616.7 L682.5,630.0 L683.8,633.5 L685.0,638.3 L686.7,635.6 L688.3,633.3 L689.7,634.0 L691.1,636.8 L692.5,636.7 L694.2,631.0 L695.8,622.5 L697.5,626.0 L699.2,631.7 L700.8,634.0 L702.5,638.3 L703.8,642.5 L705.0,648.3 L706.7,635.8 L708.3,625.0 L710.0,628.3 L711.7,631.7 L713.1,633.6 L714.4,634.2 L715.8,636.7 L717.2,631.2 L718.6,628.6 L720.0,625.0 L721.7,627.9 L723.3,631.7 L724.7,631.3 L726.1,632.0 L727.5,630.0 L729.2,638.9 L730.8,646.7 L732.1,650.0 L733.3,653.3 L735.0,656.2 L736.7,658.3 L737.9,662.2 L739.2,665.0 L740.6,662.7 L741.9,664.6 L743.3,662.5 L745.0,666.7 L746.2,657.6 L747.5,646.7 L748.8,646.2 L750.0,643.3 L751.2,627.6 L752.5,610.0 L754.2,609.7 L755.8,610.0 L757.5,573.3 L759.2,567.2 L760.8,561.7 L762.5,566.2 L764.2,573.3 L765.4,565.4 L766.7,556.7 L768.3,550.3 L770.0,546.7 L771.7,543.6 L773.3,543.3 L774.7,540.5 L776.1,538.4 L777.5,537.5 L778.8,542.4 L780.0,548.3 L781.7,560.0 L782.9,549.4 L784.2,541.7 L785.0,541.7 L786.7,542.6 L788.3,546.7 L790.0,543.3 L791.7,540.6 L793.3,540.0 L795.0,540.8 L796.7,544.2 L798.3,545.0 L800.0,546.7 L801.2,549.3 L802.5,555.0 L804.2,554.5 L805.8,551.7 L807.5,557.0 L809.2,561.7 L810.8,568.3 L812.1,557.2 L813.3,548.3 L814.6,547.5 L815.8,548.3 L817.5,546.7 L818.8,551.2 L820.0,556.7 L821.2,559.6 L822.5,563.3 L824.2,563.0 L825.8,565.0 L827.5,568.2 L829.2,569.2 L830.4,570.3 L831.7,568.3 L833.3,569.5 L835.0,570.8 L836.2,562.0 L837.5,553.3 L839.2,555.3 L840.8,560.0 L842.1,556.2 L843.3,555.0 L844.6,548.7 L845.8,543.3 L847.1,546.7 L848.3,551.7 L849.6,551.9 L850.8,550.0 L852.1,545.6 L853.3,543.3 L855.0,541.0 L856.7,541.7 L858.3,545.6 L860.0,546.7 L861.7,549.3 L863.3,551.7 L864.6,553.9 L865.8,558.3 L867.1,562.6 L868.3,566.7 L870.0,561.8 L871.7,560.0 L872.9,560.9 L874.2,561.7 L875.4,555.7 L876.7,546.7 L878.3,546.2 L880.0,543.3 L881.7,544.8 L883.3,545.0 L885.0,543.4 L886.7,543.3 L888.0,520.0 L890.0,495.0 L891.2,485.8 L892.5,477.5 L893.9,476.4 L895.3,478.4 L896.7,477.5 L898.3,476.4 L900.0,475.0 L901.4,477.0 L902.8,476.7 L904.2,478.3 L905.0,453.3 L906.4,421.3 L907.8,392.1 L909.2,360.0 L910.0,348.3 L911.7,349.1 L913.3,346.7 L915.0,360.0 L916.2,351.1 L917.5,340.0 L918.8,335.1 L920.0,328.3 L921.7,322.7 L923.3,315.0 L924.6,323.3 L925.8,330.0 L927.5,335.8 L929.2,343.3 L930.8,356.7 L932.5,343.3 L933.8,340.9 L935.0,338.3 L936.7,336.2 L938.3,335.0 L940.0,336.0 L941.7,340.0 L942.9,334.3 L944.2,331.7 L945.8,330.1 L947.5,330.0 L948.8,335.9 L950.0,343.3 L951.2,338.9 L952.5,333.3 L953.8,333.1 L955.0,330.0 L956.7,330.7 L958.3,331.7 L960.0,332.2 L961.7,330.0 L963.3,331.3 L965.0,330.9 L966.7,329.2 L968.3,303.3 L969.7,276.7 L970.9,276.0 L972.1,275.2 L973.3,275.8 L975.0,275.4 L976.7,276.7 L977.9,281.5 L979.2,288.3 L980.4,293.2 L981.7,300.0 L982.9,302.5 L984.2,304.2 L985.4,301.7 L986.7,296.7 L987.9,294.4 L989.2,290.0 L990.4,286.6 L991.7,283.3 L993.3,278.0 L995.0,271.7 L996.2,264.3 L997.5,255.0 L999.2,243.3 L1000.8,275.0 L1002.2,273.9 L1003.6,276.1 L1005.0,275.8 L1006.7,281.7 L1007.9,292.1 L1009.2,300.0 L1010.4,313.4 L1011.7,325.0 L1013.3,321.6 L1015.0,316.7 L1016.2,312.4 L1017.5,308.3 L1018.8,309.8 L1020.0,313.3 L1021.2,310.1 L1022.5,305.0 L1024.2,304.9 L1025.8,305.8 L1027.5,276.7 L1028.3,243.3 L1029.7,225.0 L1031.3,243.3 L1032.5,256.7 L1033.7,236.7 L1035.8,243.3 L1037.1,248.5 L1038.3,251.7 L1040.0,254.8 L1041.7,255.0 L1043.3,258.8 L1045.0,263.3 L1046.2,265.5 L1047.5,268.3 L1049.2,269.2 L1050.8,267.9 L1052.5,266.7 L1054.2,276.7 L1055.8,300.0 L1057.1,293.1 L1058.3,288.3 L1059.6,288.0 L1060.8,290.0 L1062.1,283.9 L1063.3,280.0 L1065.0,278.8 L1066.7,275.0 L1068.3,275.1 L1070.0,273.3 L1071.2,267.2 L1072.5,263.3 L1073.8,258.3 L1075.2,262.7 L1076.7,265.0 L1077.9,270.7 L1079.2,273.3 L1080.8,285.0 L1082.1,283.0 L1083.3,280.0 L1085.3,268.3 L1087.5,278.3 L1088.8,283.7 L1090.0,290.0 L1091.2,296.8 L1092.5,303.3 L1093.7,310.0 L1095.2,302.2 L1096.7,296.7 L1098.3,294.3 L1100.0,295.0 L1101.2,300.7 L1102.5,303.3 L1104.2,303.8 L1105.8,303.3 L1107.5,305.9 L1109.2,308.3 L1110.4,308.9 L1111.7,306.7 L1113.3,308.1 L1115.0,310.0 L1116.4,310.6 L1117.8,309.9 L1119.2,308.3 L1120.8,306.6 L1122.5,306.7 L1123.3,326.7 L1124.2,348.3 L1125.4,350.9 L1126.7,355.0 L1127.9,356.8 L1129.2,360.0 L1130.8,370.8 L1132.1,362.9 L1133.3,356.7 L1135.0,352.8 L1136.7,348.3 L1137.9,353.4 L1139.2,360.0 L1140.4,361.4 L1141.7,363.3 L1142.9,356.3 L1144.2,351.7 L1145.6,350.8 L1146.9,346.8 L1148.3,345.0 L1150.0,348.2 L1151.7,351.7 L1153.3,353.6 L1155.0,355.0 L1156.7,358.0 L1158.3,358.3 L1159.7,358.9 L1161.1,361.3 L1162.5,360.8 L1164.2,343.3 L1165.8,330.0 L1167.5,325.8 L1169.2,321.7 L1170.6,317.9 L1171.9,314.0 L1173.3,310.0 L1174.6,300.1 L1175.8,293.3 L1177.5,280.0 L1179.7,303.3 L1181.7,298.3 L1182.9,305.6 L1184.2,313.3 L1185.4,319.0 L1186.7,326.7 L1187.9,325.9 L1189.2,328.3 L1190.8,321.0 L1192.5,311.7 L1193.8,314.0 L1195.0,318.3 L1196.7,316.6 L1198.3,315.0 L1200.0,313.3 L1201.7,309.1 L1203.3,303.3 L1205.0,302.7 L1206.7,301.7 L1207.9,296.1 L1209.2,291.7 L1210.8,290.0 L1212.5,300.0 L1213.8,298.4 L1215.0,296.7 L1216.2,300.2 L1217.5,303.3 L1219.2,313.3 L1220.8,333.3 L1222.0,351.7 L1223.3,353.1 L1224.6,351.5 L1225.8,353.3 L1227.0,370.0 L1229.2,386.7 L1230.8,394.4 L1232.5,401.7 L1234.2,407.5 L1235.8,415.0 L1237.0,427.5 L1239.2,416.7 L1240.8,418.5 L1242.5,421.7 L1244.2,416.7 L1245.4,422.5 L1246.7,426.7 L1248.1,428.1 L1249.4,429.6 L1250.8,430.8 L1252.1,427.1 L1253.3,421.7 L1254.6,418.0 L1255.8,411.7 L1257.5,405.0 L1258.9,404.0 L1260.3,403.7 L1261.7,402.5 L1262.9,396.3 L1264.2,390.0 L1265.3,361.7 L1266.3,341.7 L1268.3,337.5 L1269.6,341.3 L1270.8,345.0 L1272.5,360.0 L1274.2,345.0 L1275.4,349.0 L1276.7,351.7 L1277.9,355.7 L1279.2,360.0 L1280.4,359.3 L1281.7,358.3 L1282.9,353.3 L1284.2,348.3 L1285.4,354.7 L1286.7,358.3 L1288.1,361.7 L1289.4,365.1 L1290.8,366.7 L1292.5,372.2 L1294.2,375.0 L1295.8,366.7 L1297.5,360.0 L1299.2,353.3 L1300.4,357.7 L1301.7,361.7 L1302.9,359.8 L1304.2,355.0 L1305.4,353.6 L1306.7,350.0 L1308.3,353.8 L1310.0,360.0 L1311.7,354.6 L1313.3,351.7 L1315.0,348.1 L1316.7,345.0 L1317.9,342.0 L1319.2,341.7 L1320.8,345.0 L1322.5,350.0 L1323.8,355.3 L1325.0,363.3 L1326.2,366.4 L1327.5,368.3 L1329.2,365.9 L1330.8,361.7 L1332.5,361.3 L1334.2,358.3 L1336.3,378.3 L1337.0,396.7 L1339.2,378.3 L1340.8,360.0 L1342.1,357.2 L1343.3,356.7 L1345.0,363.2 L1346.7,368.3 L1348.3,365.5 L1350.0,361.7 L1351.4,362.2 L1352.8,366.2 L1354.2,366.7 L1355.4,373.2 L1356.7,376.7 L1357.9,379.9 L1359.2,385.0 L1360.8,378.9 L1362.5,370.0 L1363.8,363.0 L1365.0,356.7 L1366.7,360.0 L1368.3,363.3 L1369.6,368.2 L1370.8,370.0 L1372.5,386.7 L1374.2,380.0 L1375.8,396.7 L1377.5,408.3 L1379.2,407.7 L1380.8,405.0 L1382.1,408.9 L1383.3,415.0 L1385.0,404.8 L1386.7,395.0 L1388.3,401.7 L1390.0,408.3 L1391.2,409.5 L1392.5,411.7 L1393.8,409.0 L1395.0,408.3 L1396.7,412.8 L1398.3,418.3 L1400.0,411.5 L1401.7,403.3 L1403.3,400.1 L1405.0,400.0 L1406.2,399.3 L1407.5,398.3 L1409.2,415.0 L1410.4,402.3 L1411.7,390.0 L1413.3,373.3 L1414.6,375.1 L1415.8,380.0 L1417.1,382.0 L1418.3,385.0 L1419.6,378.7 L1420.8,371.7 L1422.1,362.5 L1423.3,353.3 L1425.0,345.8 L1426.2,350.7 L1427.5,358.3 L1428.8,364.9 L1430.0,368.3 L1431.2,370.9 L1432.5,371.7 L1433.8,364.0 L1435.0,353.3 L1436.2,350.4 L1437.5,350.0 L1438.8,350.9 L1440.0,353.3 L1441.7,333.3 L1442.5,319.2 L1444.2,318.1 L1445.8,320.0 L1447.5,340.0 L1448.8,345.1 L1450.0,348.3 L1452.0,353.3 L1453.3,378.3 L1453.7,401.7 L1455.2,395.1 L1456.7,390.0 L1457.9,391.3 L1459.2,395.0 L1460.4,388.9 L1461.7,383.3 L1463.3,383.8 L1465.0,381.7 L1466.2,380.2 L1467.5,376.7 L1468.8,380.9 L1470.0,386.7 L1471.7,401.7 L1472.9,393.9 L1474.2,388.3 L1475.4,393.0 L1476.7,395.0 L1477.9,394.4 L1479.2,393.3 L1480.4,399.0 L1481.7,403.3 L1483.3,408.3 L1485.0,403.7 L1486.7,401.7 L1488.3,420.0 L1490.0,434.2 L1491.2,421.5 L1492.5,411.7 L1493.8,414.8 L1495.0,416.7 L1496.2,423.1 L1497.5,430.0 L1498.8,433.6 L1500.0,440.0 L1501.2,439.7 L1502.5,436.7 L1503.8,440.4 L1505.0,443.3 L1506.7,438.5 L1508.3,431.7 L1510.0,440.0 L1511.9,450.6 L1513.3,451.1 L1514.7,455.4 L1516.1,456.1 L1517.5,460.3 L1518.9,468.4 L1520.3,472.8 L1521.7,460.1 L1523.1,447.8 L1524.4,446.6 L1525.8,446.4 L1527.2,454.2 L1528.6,461.7 L1530.0,483.9 L1531.4,503.3 L1532.2,525.6 L1535.6,511.7 L1536.9,536.7 L1538.3,586.7 L1539.7,642.2 L1540.6,699.2 L1548.1,689.4 L1550.8,664.4 L1553.6,614.4 L1555.0,610.3 L1559.2,611.7 L1561.9,583.9 L1564.7,582.5 L1568.9,600.6 L1573.1,620.0 L1575.8,581.1 L1578.6,600.6 L1581.4,583.9 L1585.0,585.3 L1587.8,553.3 L1590.6,561.7 L1592.5,589.4 L1592.5,668.3 L236.5,668.3 Z" fill="url(#gg)"/></g>
<g clip-path="url(#dn)"><path d="M236.5,659.5 L239.0,662.0 L241.5,670.0 L244.0,683.0 L246.5,688.0 L249.0,662.0 L251.5,640.5 L253.5,657.0 L256.0,672.0 L260.0,680.0 L266.0,676.0 L270.0,662.0 L275.0,657.0 L279.0,650.0 L282.5,642.0 L286.0,645.0 L291.0,645.5 L294.0,651.0 L297.5,643.5 L302.0,645.5 L305.0,660.0 L308.0,680.0 L312.0,695.0 L316.0,702.0 L316.5,750.0 L320.0,750.8 L324.0,742.0 L325.5,710.0 L330.0,708.0 L332.5,702.0 L336.0,690.0 L340.0,680.0 L345.0,665.0 L349.0,652.0 L352.0,665.0 L356.0,680.0 L360.0,695.0 L363.3,702.5 L366.7,710.0 L370.8,716.7 L373.3,725.0 L377.5,725.0 L380.0,716.7 L382.5,706.7 L385.8,700.0 L390.0,698.3 L392.5,683.3 L394.2,700.0 L396.7,733.3 L398.3,750.0 L399.7,750.8 L400.7,731.7 L402.5,753.3 L404.2,760.8 L405.4,756.5 L406.7,753.3 L407.9,758.0 L409.2,765.0 L410.4,765.9 L411.7,765.8 L413.3,750.0 L414.6,732.0 L415.8,716.7 L417.1,707.6 L418.3,698.3 L420.0,693.3 L421.7,699.6 L423.3,706.7 L424.7,701.9 L426.1,700.0 L427.5,696.7 L428.8,691.9 L430.0,690.0 L431.2,696.5 L432.5,703.3 L434.2,695.3 L435.8,690.0 L437.5,677.5 L439.2,681.6 L440.8,688.3 L442.1,684.8 L443.3,681.7 L445.0,691.9 L446.7,700.0 L448.3,713.8 L450.0,730.0 L451.7,735.8 L452.9,725.4 L454.2,716.7 L455.8,698.3 L457.1,703.7 L458.3,708.3 L459.6,717.3 L460.8,723.3 L462.5,724.4 L464.2,725.0 L465.4,716.3 L466.7,708.3 L468.3,699.0 L470.0,686.7 L471.2,683.5 L472.5,683.3 L473.8,687.8 L475.0,690.0 L476.3,678.3 L477.5,653.3 L478.9,652.4 L480.3,651.6 L481.7,652.5 L482.9,641.7 L484.2,633.3 L485.8,601.7 L487.1,596.9 L488.3,593.3 L489.6,588.5 L490.8,581.7 L492.1,584.0 L493.3,588.3 L495.0,584.4 L496.7,580.0 L497.9,584.6 L499.2,588.3 L500.4,580.4 L501.7,573.3 L502.9,557.7 L504.2,541.7 L505.8,528.3 L507.1,531.9 L508.3,538.3 L510.0,542.8 L511.7,550.0 L512.9,542.0 L514.2,535.8 L515.8,539.3 L517.5,541.7 L519.2,548.1 L520.8,555.0 L522.1,559.4 L523.3,565.0 L524.6,560.3 L525.8,555.0 L527.5,545.7 L529.2,536.7 L530.8,530.6 L532.5,525.8 L533.8,533.0 L535.0,538.3 L536.2,541.9 L537.5,544.2 L538.9,541.4 L540.3,540.5 L541.7,538.3 L543.1,536.7 L544.4,536.2 L545.8,533.3 L547.5,534.9 L549.2,535.0 L550.8,536.0 L552.5,538.3 L553.9,537.6 L555.3,532.7 L556.7,531.7 L558.3,533.9 L560.0,536.7 L561.7,544.2 L563.3,550.0 L565.0,540.6 L566.7,533.3 L568.3,537.5 L570.0,541.7 L571.2,545.2 L572.5,551.7 L574.2,548.0 L575.8,543.3 L577.5,543.8 L579.2,542.5 L580.8,547.3 L582.5,551.7 L583.8,557.9 L585.0,561.7 L586.7,556.9 L588.3,553.3 L589.6,561.5 L590.8,568.3 L592.5,571.1 L594.2,573.3 L595.8,579.4 L597.5,585.0 L599.2,582.4 L600.8,580.0 L602.1,585.3 L603.3,588.3 L604.6,583.1 L605.8,575.0 L607.1,564.9 L608.3,555.0 L609.6,548.0 L610.8,540.0 L612.1,539.4 L613.3,541.7 L615.0,554.8 L616.7,566.7 L617.9,561.3 L619.2,555.0 L620.8,546.2 L622.5,534.2 L624.2,538.1 L625.8,540.0 L627.5,552.2 L629.2,565.8 L630.8,558.4 L632.5,551.7 L633.9,552.2 L635.3,550.1 L636.7,551.7 L638.1,550.7 L639.4,548.9 L640.8,549.2 L642.5,542.5 L644.2,538.3 L645.8,527.8 L647.5,520.0 L648.8,529.2 L650.0,536.7 L651.7,538.0 L653.3,541.7 L655.0,545.9 L656.7,551.7 L658.3,557.2 L660.0,563.3 L661.2,574.5 L662.5,583.3 L663.8,589.1 L665.0,597.5 L666.2,590.3 L667.5,583.3 L669.2,586.0 L670.8,588.3 L672.5,582.5 L674.2,574.2 L675.4,591.4 L676.7,606.7 L678.3,622.5 L679.6,620.7 L680.8,616.7 L682.5,630.0 L683.8,633.5 L685.0,638.3 L686.7,635.6 L688.3,633.3 L689.7,634.0 L691.1,636.8 L692.5,636.7 L694.2,631.0 L695.8,622.5 L697.5,626.0 L699.2,631.7 L700.8,634.0 L702.5,638.3 L703.8,642.5 L705.0,648.3 L706.7,635.8 L708.3,625.0 L710.0,628.3 L711.7,631.7 L713.1,633.6 L714.4,634.2 L715.8,636.7 L717.2,631.2 L718.6,628.6 L720.0,625.0 L721.7,627.9 L723.3,631.7 L724.7,631.3 L726.1,632.0 L727.5,630.0 L729.2,638.9 L730.8,646.7 L732.1,650.0 L733.3,653.3 L735.0,656.2 L736.7,658.3 L737.9,662.2 L739.2,665.0 L740.6,662.7 L741.9,664.6 L743.3,662.5 L745.0,666.7 L746.2,657.6 L747.5,646.7 L748.8,646.2 L750.0,643.3 L751.2,627.6 L752.5,610.0 L754.2,609.7 L755.8,610.0 L757.5,573.3 L759.2,567.2 L760.8,561.7 L762.5,566.2 L764.2,573.3 L765.4,565.4 L766.7,556.7 L768.3,550.3 L770.0,546.7 L771.7,543.6 L773.3,543.3 L774.7,540.5 L776.1,538.4 L777.5,537.5 L778.8,542.4 L780.0,548.3 L781.7,560.0 L782.9,549.4 L784.2,541.7 L785.0,541.7 L786.7,542.6 L788.3,546.7 L790.0,543.3 L791.7,540.6 L793.3,540.0 L795.0,540.8 L796.7,544.2 L798.3,545.0 L800.0,546.7 L801.2,549.3 L802.5,555.0 L804.2,554.5 L805.8,551.7 L807.5,557.0 L809.2,561.7 L810.8,568.3 L812.1,557.2 L813.3,548.3 L814.6,547.5 L815.8,548.3 L817.5,546.7 L818.8,551.2 L820.0,556.7 L821.2,559.6 L822.5,563.3 L824.2,563.0 L825.8,565.0 L827.5,568.2 L829.2,569.2 L830.4,570.3 L831.7,568.3 L833.3,569.5 L835.0,570.8 L836.2,562.0 L837.5,553.3 L839.2,555.3 L840.8,560.0 L842.1,556.2 L843.3,555.0 L844.6,548.7 L845.8,543.3 L847.1,546.7 L848.3,551.7 L849.6,551.9 L850.8,550.0 L852.1,545.6 L853.3,543.3 L855.0,541.0 L856.7,541.7 L858.3,545.6 L860.0,546.7 L861.7,549.3 L863.3,551.7 L864.6,553.9 L865.8,558.3 L867.1,562.6 L868.3,566.7 L870.0,561.8 L871.7,560.0 L872.9,560.9 L874.2,561.7 L875.4,555.7 L876.7,546.7 L878.3,546.2 L880.0,543.3 L881.7,544.8 L883.3,545.0 L885.0,543.4 L886.7,543.3 L888.0,520.0 L890.0,495.0 L891.2,485.8 L892.5,477.5 L893.9,476.4 L895.3,478.4 L896.7,477.5 L898.3,476.4 L900.0,475.0 L901.4,477.0 L902.8,476.7 L904.2,478.3 L905.0,453.3 L906.4,421.3 L907.8,392.1 L909.2,360.0 L910.0,348.3 L911.7,349.1 L913.3,346.7 L915.0,360.0 L916.2,351.1 L917.5,340.0 L918.8,335.1 L920.0,328.3 L921.7,322.7 L923.3,315.0 L924.6,323.3 L925.8,330.0 L927.5,335.8 L929.2,343.3 L930.8,356.7 L932.5,343.3 L933.8,340.9 L935.0,338.3 L936.7,336.2 L938.3,335.0 L940.0,336.0 L941.7,340.0 L942.9,334.3 L944.2,331.7 L945.8,330.1 L947.5,330.0 L948.8,335.9 L950.0,343.3 L951.2,338.9 L952.5,333.3 L953.8,333.1 L955.0,330.0 L956.7,330.7 L958.3,331.7 L960.0,332.2 L961.7,330.0 L963.3,331.3 L965.0,330.9 L966.7,329.2 L968.3,303.3 L969.7,276.7 L970.9,276.0 L972.1,275.2 L973.3,275.8 L975.0,275.4 L976.7,276.7 L977.9,281.5 L979.2,288.3 L980.4,293.2 L981.7,300.0 L982.9,302.5 L984.2,304.2 L985.4,301.7 L986.7,296.7 L987.9,294.4 L989.2,290.0 L990.4,286.6 L991.7,283.3 L993.3,278.0 L995.0,271.7 L996.2,264.3 L997.5,255.0 L999.2,243.3 L1000.8,275.0 L1002.2,273.9 L1003.6,276.1 L1005.0,275.8 L1006.7,281.7 L1007.9,292.1 L1009.2,300.0 L1010.4,313.4 L1011.7,325.0 L1013.3,321.6 L1015.0,316.7 L1016.2,312.4 L1017.5,308.3 L1018.8,309.8 L1020.0,313.3 L1021.2,310.1 L1022.5,305.0 L1024.2,304.9 L1025.8,305.8 L1027.5,276.7 L1028.3,243.3 L1029.7,225.0 L1031.3,243.3 L1032.5,256.7 L1033.7,236.7 L1035.8,243.3 L1037.1,248.5 L1038.3,251.7 L1040.0,254.8 L1041.7,255.0 L1043.3,258.8 L1045.0,263.3 L1046.2,265.5 L1047.5,268.3 L1049.2,269.2 L1050.8,267.9 L1052.5,266.7 L1054.2,276.7 L1055.8,300.0 L1057.1,293.1 L1058.3,288.3 L1059.6,288.0 L1060.8,290.0 L1062.1,283.9 L1063.3,280.0 L1065.0,278.8 L1066.7,275.0 L1068.3,275.1 L1070.0,273.3 L1071.2,267.2 L1072.5,263.3 L1073.8,258.3 L1075.2,262.7 L1076.7,265.0 L1077.9,270.7 L1079.2,273.3 L1080.8,285.0 L1082.1,283.0 L1083.3,280.0 L1085.3,268.3 L1087.5,278.3 L1088.8,283.7 L1090.0,290.0 L1091.2,296.8 L1092.5,303.3 L1093.7,310.0 L1095.2,302.2 L1096.7,296.7 L1098.3,294.3 L1100.0,295.0 L1101.2,300.7 L1102.5,303.3 L1104.2,303.8 L1105.8,303.3 L1107.5,305.9 L1109.2,308.3 L1110.4,308.9 L1111.7,306.7 L1113.3,308.1 L1115.0,310.0 L1116.4,310.6 L1117.8,309.9 L1119.2,308.3 L1120.8,306.6 L1122.5,306.7 L1123.3,326.7 L1124.2,348.3 L1125.4,350.9 L1126.7,355.0 L1127.9,356.8 L1129.2,360.0 L1130.8,370.8 L1132.1,362.9 L1133.3,356.7 L1135.0,352.8 L1136.7,348.3 L1137.9,353.4 L1139.2,360.0 L1140.4,361.4 L1141.7,363.3 L1142.9,356.3 L1144.2,351.7 L1145.6,350.8 L1146.9,346.8 L1148.3,345.0 L1150.0,348.2 L1151.7,351.7 L1153.3,353.6 L1155.0,355.0 L1156.7,358.0 L1158.3,358.3 L1159.7,358.9 L1161.1,361.3 L1162.5,360.8 L1164.2,343.3 L1165.8,330.0 L1167.5,325.8 L1169.2,321.7 L1170.6,317.9 L1171.9,314.0 L1173.3,310.0 L1174.6,300.1 L1175.8,293.3 L1177.5,280.0 L1179.7,303.3 L1181.7,298.3 L1182.9,305.6 L1184.2,313.3 L1185.4,319.0 L1186.7,326.7 L1187.9,325.9 L1189.2,328.3 L1190.8,321.0 L1192.5,311.7 L1193.8,314.0 L1195.0,318.3 L1196.7,316.6 L1198.3,315.0 L1200.0,313.3 L1201.7,309.1 L1203.3,303.3 L1205.0,302.7 L1206.7,301.7 L1207.9,296.1 L1209.2,291.7 L1210.8,290.0 L1212.5,300.0 L1213.8,298.4 L1215.0,296.7 L1216.2,300.2 L1217.5,303.3 L1219.2,313.3 L1220.8,333.3 L1222.0,351.7 L1223.3,353.1 L1224.6,351.5 L1225.8,353.3 L1227.0,370.0 L1229.2,386.7 L1230.8,394.4 L1232.5,401.7 L1234.2,407.5 L1235.8,415.0 L1237.0,427.5 L1239.2,416.7 L1240.8,418.5 L1242.5,421.7 L1244.2,416.7 L1245.4,422.5 L1246.7,426.7 L1248.1,428.1 L1249.4,429.6 L1250.8,430.8 L1252.1,427.1 L1253.3,421.7 L1254.6,418.0 L1255.8,411.7 L1257.5,405.0 L1258.9,404.0 L1260.3,403.7 L1261.7,402.5 L1262.9,396.3 L1264.2,390.0 L1265.3,361.7 L1266.3,341.7 L1268.3,337.5 L1269.6,341.3 L1270.8,345.0 L1272.5,360.0 L1274.2,345.0 L1275.4,349.0 L1276.7,351.7 L1277.9,355.7 L1279.2,360.0 L1280.4,359.3 L1281.7,358.3 L1282.9,353.3 L1284.2,348.3 L1285.4,354.7 L1286.7,358.3 L1288.1,361.7 L1289.4,365.1 L1290.8,366.7 L1292.5,372.2 L1294.2,375.0 L1295.8,366.7 L1297.5,360.0 L1299.2,353.3 L1300.4,357.7 L1301.7,361.7 L1302.9,359.8 L1304.2,355.0 L1305.4,353.6 L1306.7,350.0 L1308.3,353.8 L1310.0,360.0 L1311.7,354.6 L1313.3,351.7 L1315.0,348.1 L1316.7,345.0 L1317.9,342.0 L1319.2,341.7 L1320.8,345.0 L1322.5,350.0 L1323.8,355.3 L1325.0,363.3 L1326.2,366.4 L1327.5,368.3 L1329.2,365.9 L1330.8,361.7 L1332.5,361.3 L1334.2,358.3 L1336.3,378.3 L1337.0,396.7 L1339.2,378.3 L1340.8,360.0 L1342.1,357.2 L1343.3,356.7 L1345.0,363.2 L1346.7,368.3 L1348.3,365.5 L1350.0,361.7 L1351.4,362.2 L1352.8,366.2 L1354.2,366.7 L1355.4,373.2 L1356.7,376.7 L1357.9,379.9 L1359.2,385.0 L1360.8,378.9 L1362.5,370.0 L1363.8,363.0 L1365.0,356.7 L1366.7,360.0 L1368.3,363.3 L1369.6,368.2 L1370.8,370.0 L1372.5,386.7 L1374.2,380.0 L1375.8,396.7 L1377.5,408.3 L1379.2,407.7 L1380.8,405.0 L1382.1,408.9 L1383.3,415.0 L1385.0,404.8 L1386.7,395.0 L1388.3,401.7 L1390.0,408.3 L1391.2,409.5 L1392.5,411.7 L1393.8,409.0 L1395.0,408.3 L1396.7,412.8 L1398.3,418.3 L1400.0,411.5 L1401.7,403.3 L1403.3,400.1 L1405.0,400.0 L1406.2,399.3 L1407.5,398.3 L1409.2,415.0 L1410.4,402.3 L1411.7,390.0 L1413.3,373.3 L1414.6,375.1 L1415.8,380.0 L1417.1,382.0 L1418.3,385.0 L1419.6,378.7 L1420.8,371.7 L1422.1,362.5 L1423.3,353.3 L1425.0,345.8 L1426.2,350.7 L1427.5,358.3 L1428.8,364.9 L1430.0,368.3 L1431.2,370.9 L1432.5,371.7 L1433.8,364.0 L1435.0,353.3 L1436.2,350.4 L1437.5,350.0 L1438.8,350.9 L1440.0,353.3 L1441.7,333.3 L1442.5,319.2 L1444.2,318.1 L1445.8,320.0 L1447.5,340.0 L1448.8,345.1 L1450.0,348.3 L1452.0,353.3 L1453.3,378.3 L1453.7,401.7 L1455.2,395.1 L1456.7,390.0 L1457.9,391.3 L1459.2,395.0 L1460.4,388.9 L1461.7,383.3 L1463.3,383.8 L1465.0,381.7 L1466.2,380.2 L1467.5,376.7 L1468.8,380.9 L1470.0,386.7 L1471.7,401.7 L1472.9,393.9 L1474.2,388.3 L1475.4,393.0 L1476.7,395.0 L1477.9,394.4 L1479.2,393.3 L1480.4,399.0 L1481.7,403.3 L1483.3,408.3 L1485.0,403.7 L1486.7,401.7 L1488.3,420.0 L1490.0,434.2 L1491.2,421.5 L1492.5,411.7 L1493.8,414.8 L1495.0,416.7 L1496.2,423.1 L1497.5,430.0 L1498.8,433.6 L1500.0,440.0 L1501.2,439.7 L1502.5,436.7 L1503.8,440.4 L1505.0,443.3 L1506.7,438.5 L1508.3,431.7 L1510.0,440.0 L1511.9,450.6 L1513.3,451.1 L1514.7,455.4 L1516.1,456.1 L1517.5,460.3 L1518.9,468.4 L1520.3,472.8 L1521.7,460.1 L1523.1,447.8 L1524.4,446.6 L1525.8,446.4 L1527.2,454.2 L1528.6,461.7 L1530.0,483.9 L1531.4,503.3 L1532.2,525.6 L1535.6,511.7 L1536.9,536.7 L1538.3,586.7 L1539.7,642.2 L1540.6,699.2 L1548.1,689.4 L1550.8,664.4 L1553.6,614.4 L1555.0,610.3 L1559.2,611.7 L1561.9,583.9 L1564.7,582.5 L1568.9,600.6 L1573.1,620.0 L1575.8,581.1 L1578.6,600.6 L1581.4,583.9 L1585.0,585.3 L1587.8,553.3 L1590.6,561.7 L1592.5,589.4 L1592.5,668.3 L236.5,668.3 Z" fill="url(#rg)"/></g>
<!-- baseline -->
<line x1="393.2" y1="668.3" x2="1596" y2="668.3" stroke="#8d95a8" stroke-width="2.4" stroke-dasharray="2.4 7.933"/>
<!-- line -->
<g fill="none" stroke-width="5.2" stroke-linejoin="round" stroke-linecap="round">
<g clip-path="url(#up)"><path d="M236.5,659.5 L239.0,662.0 L241.5,670.0 L244.0,683.0 L246.5,688.0 L249.0,662.0 L251.5,640.5 L253.5,657.0 L256.0,672.0 L260.0,680.0 L266.0,676.0 L270.0,662.0 L275.0,657.0 L279.0,650.0 L282.5,642.0 L286.0,645.0 L291.0,645.5 L294.0,651.0 L297.5,643.5 L302.0,645.5 L305.0,660.0 L308.0,680.0 L312.0,695.0 L316.0,702.0 L316.5,750.0 L320.0,750.8 L324.0,742.0 L325.5,710.0 L330.0,708.0 L332.5,702.0 L336.0,690.0 L340.0,680.0 L345.0,665.0 L349.0,652.0 L352.0,665.0 L356.0,680.0 L360.0,695.0 L363.3,702.5 L366.7,710.0 L370.8,716.7 L373.3,725.0 L377.5,725.0 L380.0,716.7 L382.5,706.7 L385.8,700.0 L390.0,698.3 L392.5,683.3 L394.2,700.0 L396.7,733.3 L398.3,750.0 L399.7,750.8 L400.7,731.7 L402.5,753.3 L404.2,760.8 L405.4,756.5 L406.7,753.3 L407.9,758.0 L409.2,765.0 L410.4,765.9 L411.7,765.8 L413.3,750.0 L414.6,732.0 L415.8,716.7 L417.1,707.6 L418.3,698.3 L420.0,693.3 L421.7,699.6 L423.3,706.7 L424.7,701.9 L426.1,700.0 L427.5,696.7 L428.8,691.9 L430.0,690.0 L431.2,696.5 L432.5,703.3 L434.2,695.3 L435.8,690.0 L437.5,677.5 L439.2,681.6 L440.8,688.3 L442.1,684.8 L443.3,681.7 L445.0,691.9 L446.7,700.0 L448.3,713.8 L450.0,730.0 L451.7,735.8 L452.9,725.4 L454.2,716.7 L455.8,698.3 L457.1,703.7 L458.3,708.3 L459.6,717.3 L460.8,723.3 L462.5,724.4 L464.2,725.0 L465.4,716.3 L466.7,708.3 L468.3,699.0 L470.0,686.7 L471.2,683.5 L472.5,683.3 L473.8,687.8 L475.0,690.0 L476.3,678.3 L477.5,653.3 L478.9,652.4 L480.3,651.6 L481.7,652.5 L482.9,641.7 L484.2,633.3 L485.8,601.7 L487.1,596.9 L488.3,593.3 L489.6,588.5 L490.8,581.7 L492.1,584.0 L493.3,588.3 L495.0,584.4 L496.7,580.0 L497.9,584.6 L499.2,588.3 L500.4,580.4 L501.7,573.3 L502.9,557.7 L504.2,541.7 L505.8,528.3 L507.1,531.9 L508.3,538.3 L510.0,542.8 L511.7,550.0 L512.9,542.0 L514.2,535.8 L515.8,539.3 L517.5,541.7 L519.2,548.1 L520.8,555.0 L522.1,559.4 L523.3,565.0 L524.6,560.3 L525.8,555.0 L527.5,545.7 L529.2,536.7 L530.8,530.6 L532.5,525.8 L533.8,533.0 L535.0,538.3 L536.2,541.9 L537.5,544.2 L538.9,541.4 L540.3,540.5 L541.7,538.3 L543.1,536.7 L544.4,536.2 L545.8,533.3 L547.5,534.9 L549.2,535.0 L550.8,536.0 L552.5,538.3 L553.9,537.6 L555.3,532.7 L556.7,531.7 L558.3,533.9 L560.0,536.7 L561.7,544.2 L563.3,550.0 L565.0,540.6 L566.7,533.3 L568.3,537.5 L570.0,541.7 L571.2,545.2 L572.5,551.7 L574.2,548.0 L575.8,543.3 L577.5,543.8 L579.2,542.5 L580.8,547.3 L582.5,551.7 L583.8,557.9 L585.0,561.7 L586.7,556.9 L588.3,553.3 L589.6,561.5 L590.8,568.3 L592.5,571.1 L594.2,573.3 L595.8,579.4 L597.5,585.0 L599.2,582.4 L600.8,580.0 L602.1,585.3 L603.3,588.3 L604.6,583.1 L605.8,575.0 L607.1,564.9 L608.3,555.0 L609.6,548.0 L610.8,540.0 L612.1,539.4 L613.3,541.7 L615.0,554.8 L616.7,566.7 L617.9,561.3 L619.2,555.0 L620.8,546.2 L622.5,534.2 L624.2,538.1 L625.8,540.0 L627.5,552.2 L629.2,565.8 L630.8,558.4 L632.5,551.7 L633.9,552.2 L635.3,550.1 L636.7,551.7 L638.1,550.7 L639.4,548.9 L640.8,549.2 L642.5,542.5 L644.2,538.3 L645.8,527.8 L647.5,520.0 L648.8,529.2 L650.0,536.7 L651.7,538.0 L653.3,541.7 L655.0,545.9 L656.7,551.7 L658.3,557.2 L660.0,563.3 L661.2,574.5 L662.5,583.3 L663.8,589.1 L665.0,597.5 L666.2,590.3 L667.5,583.3 L669.2,586.0 L670.8,588.3 L672.5,582.5 L674.2,574.2 L675.4,591.4 L676.7,606.7 L678.3,622.5 L679.6,620.7 L680.8,616.7 L682.5,630.0 L683.8,633.5 L685.0,638.3 L686.7,635.6 L688.3,633.3 L689.7,634.0 L691.1,636.8 L692.5,636.7 L694.2,631.0 L695.8,622.5 L697.5,626.0 L699.2,631.7 L700.8,634.0 L702.5,638.3 L703.8,642.5 L705.0,648.3 L706.7,635.8 L708.3,625.0 L710.0,628.3 L711.7,631.7 L713.1,633.6 L714.4,634.2 L715.8,636.7 L717.2,631.2 L718.6,628.6 L720.0,625.0 L721.7,627.9 L723.3,631.7 L724.7,631.3 L726.1,632.0 L727.5,630.0 L729.2,638.9 L730.8,646.7 L732.1,650.0 L733.3,653.3 L735.0,656.2 L736.7,658.3 L737.9,662.2 L739.2,665.0 L740.6,662.7 L741.9,664.6 L743.3,662.5 L745.0,666.7 L746.2,657.6 L747.5,646.7 L748.8,646.2 L750.0,643.3 L751.2,627.6 L752.5,610.0 L754.2,609.7 L755.8,610.0 L757.5,573.3 L759.2,567.2 L760.8,561.7 L762.5,566.2 L764.2,573.3 L765.4,565.4 L766.7,556.7 L768.3,550.3 L770.0,546.7 L771.7,543.6 L773.3,543.3 L774.7,540.5 L776.1,538.4 L777.5,537.5 L778.8,542.4 L780.0,548.3 L781.7,560.0 L782.9,549.4 L784.2,541.7 L785.0,541.7 L786.7,542.6 L788.3,546.7 L790.0,543.3 L791.7,540.6 L793.3,540.0 L795.0,540.8 L796.7,544.2 L798.3,545.0 L800.0,546.7 L801.2,549.3 L802.5,555.0 L804.2,554.5 L805.8,551.7 L807.5,557.0 L809.2,561.7 L810.8,568.3 L812.1,557.2 L813.3,548.3 L814.6,547.5 L815.8,548.3 L817.5,546.7 L818.8,551.2 L820.0,556.7 L821.2,559.6 L822.5,563.3 L824.2,563.0 L825.8,565.0 L827.5,568.2 L829.2,569.2 L830.4,570.3 L831.7,568.3 L833.3,569.5 L835.0,570.8 L836.2,562.0 L837.5,553.3 L839.2,555.3 L840.8,560.0 L842.1,556.2 L843.3,555.0 L844.6,548.7 L845.8,543.3 L847.1,546.7 L848.3,551.7 L849.6,551.9 L850.8,550.0 L852.1,545.6 L853.3,543.3 L855.0,541.0 L856.7,541.7 L858.3,545.6 L860.0,546.7 L861.7,549.3 L863.3,551.7 L864.6,553.9 L865.8,558.3 L867.1,562.6 L868.3,566.7 L870.0,561.8 L871.7,560.0 L872.9,560.9 L874.2,561.7 L875.4,555.7 L876.7,546.7 L878.3,546.2 L880.0,543.3 L881.7,544.8 L883.3,545.0 L885.0,543.4 L886.7,543.3 L888.0,520.0 L890.0,495.0 L891.2,485.8 L892.5,477.5 L893.9,476.4 L895.3,478.4 L896.7,477.5 L898.3,476.4 L900.0,475.0 L901.4,477.0 L902.8,476.7 L904.2,478.3 L905.0,453.3 L906.4,421.3 L907.8,392.1 L909.2,360.0 L910.0,348.3 L911.7,349.1 L913.3,346.7 L915.0,360.0 L916.2,351.1 L917.5,340.0 L918.8,335.1 L920.0,328.3 L921.7,322.7 L923.3,315.0 L924.6,323.3 L925.8,330.0 L927.5,335.8 L929.2,343.3 L930.8,356.7 L932.5,343.3 L933.8,340.9 L935.0,338.3 L936.7,336.2 L938.3,335.0 L940.0,336.0 L941.7,340.0 L942.9,334.3 L944.2,331.7 L945.8,330.1 L947.5,330.0 L948.8,335.9 L950.0,343.3 L951.2,338.9 L952.5,333.3 L953.8,333.1 L955.0,330.0 L956.7,330.7 L958.3,331.7 L960.0,332.2 L961.7,330.0 L963.3,331.3 L965.0,330.9 L966.7,329.2 L968.3,303.3 L969.7,276.7 L970.9,276.0 L972.1,275.2 L973.3,275.8 L975.0,275.4 L976.7,276.7 L977.9,281.5 L979.2,288.3 L980.4,293.2 L981.7,300.0 L982.9,302.5 L984.2,304.2 L985.4,301.7 L986.7,296.7 L987.9,294.4 L989.2,290.0 L990.4,286.6 L991.7,283.3 L993.3,278.0 L995.0,271.7 L996.2,264.3 L997.5,255.0 L999.2,243.3 L1000.8,275.0 L1002.2,273.9 L1003.6,276.1 L1005.0,275.8 L1006.7,281.7 L1007.9,292.1 L1009.2,300.0 L1010.4,313.4 L1011.7,325.0 L1013.3,321.6 L1015.0,316.7 L1016.2,312.4 L1017.5,308.3 L1018.8,309.8 L1020.0,313.3 L1021.2,310.1 L1022.5,305.0 L1024.2,304.9 L1025.8,305.8 L1027.5,276.7 L1028.3,243.3 L1029.7,225.0 L1031.3,243.3 L1032.5,256.7 L1033.7,236.7 L1035.8,243.3 L1037.1,248.5 L1038.3,251.7 L1040.0,254.8 L1041.7,255.0 L1043.3,258.8 L1045.0,263.3 L1046.2,265.5 L1047.5,268.3 L1049.2,269.2 L1050.8,267.9 L1052.5,266.7 L1054.2,276.7 L1055.8,300.0 L1057.1,293.1 L1058.3,288.3 L1059.6,288.0 L1060.8,290.0 L1062.1,283.9 L1063.3,280.0 L1065.0,278.8 L1066.7,275.0 L1068.3,275.1 L1070.0,273.3 L1071.2,267.2 L1072.5,263.3 L1073.8,258.3 L1075.2,262.7 L1076.7,265.0 L1077.9,270.7 L1079.2,273.3 L1080.8,285.0 L1082.1,283.0 L1083.3,280.0 L1085.3,268.3 L1087.5,278.3 L1088.8,283.7 L1090.0,290.0 L1091.2,296.8 L1092.5,303.3 L1093.7,310.0 L1095.2,302.2 L1096.7,296.7 L1098.3,294.3 L1100.0,295.0 L1101.2,300.7 L1102.5,303.3 L1104.2,303.8 L1105.8,303.3 L1107.5,305.9 L1109.2,308.3 L1110.4,308.9 L1111.7,306.7 L1113.3,308.1 L1115.0,310.0 L1116.4,310.6 L1117.8,309.9 L1119.2,308.3 L1120.8,306.6 L1122.5,306.7 L1123.3,326.7 L1124.2,348.3 L1125.4,350.9 L1126.7,355.0 L1127.9,356.8 L1129.2,360.0 L1130.8,370.8 L1132.1,362.9 L1133.3,356.7 L1135.0,352.8 L1136.7,348.3 L1137.9,353.4 L1139.2,360.0 L1140.4,361.4 L1141.7,363.3 L1142.9,356.3 L1144.2,351.7 L1145.6,350.8 L1146.9,346.8 L1148.3,345.0 L1150.0,348.2 L1151.7,351.7 L1153.3,353.6 L1155.0,355.0 L1156.7,358.0 L1158.3,358.3 L1159.7,358.9 L1161.1,361.3 L1162.5,360.8 L1164.2,343.3 L1165.8,330.0 L1167.5,325.8 L1169.2,321.7 L1170.6,317.9 L1171.9,314.0 L1173.3,310.0 L1174.6,300.1 L1175.8,293.3 L1177.5,280.0 L1179.7,303.3 L1181.7,298.3 L1182.9,305.6 L1184.2,313.3 L1185.4,319.0 L1186.7,326.7 L1187.9,325.9 L1189.2,328.3 L1190.8,321.0 L1192.5,311.7 L1193.8,314.0 L1195.0,318.3 L1196.7,316.6 L1198.3,315.0 L1200.0,313.3 L1201.7,309.1 L1203.3,303.3 L1205.0,302.7 L1206.7,301.7 L1207.9,296.1 L1209.2,291.7 L1210.8,290.0 L1212.5,300.0 L1213.8,298.4 L1215.0,296.7 L1216.2,300.2 L1217.5,303.3 L1219.2,313.3 L1220.8,333.3 L1222.0,351.7 L1223.3,353.1 L1224.6,351.5 L1225.8,353.3 L1227.0,370.0 L1229.2,386.7 L1230.8,394.4 L1232.5,401.7 L1234.2,407.5 L1235.8,415.0 L1237.0,427.5 L1239.2,416.7 L1240.8,418.5 L1242.5,421.7 L1244.2,416.7 L1245.4,422.5 L1246.7,426.7 L1248.1,428.1 L1249.4,429.6 L1250.8,430.8 L1252.1,427.1 L1253.3,421.7 L1254.6,418.0 L1255.8,411.7 L1257.5,405.0 L1258.9,404.0 L1260.3,403.7 L1261.7,402.5 L1262.9,396.3 L1264.2,390.0 L1265.3,361.7 L1266.3,341.7 L1268.3,337.5 L1269.6,341.3 L1270.8,345.0 L1272.5,360.0 L1274.2,345.0 L1275.4,349.0 L1276.7,351.7 L1277.9,355.7 L1279.2,360.0 L1280.4,359.3 L1281.7,358.3 L1282.9,353.3 L1284.2,348.3 L1285.4,354.7 L1286.7,358.3 L1288.1,361.7 L1289.4,365.1 L1290.8,366.7 L1292.5,372.2 L1294.2,375.0 L1295.8,366.7 L1297.5,360.0 L1299.2,353.3 L1300.4,357.7 L1301.7,361.7 L1302.9,359.8 L1304.2,355.0 L1305.4,353.6 L1306.7,350.0 L1308.3,353.8 L1310.0,360.0 L1311.7,354.6 L1313.3,351.7 L1315.0,348.1 L1316.7,345.0 L1317.9,342.0 L1319.2,341.7 L1320.8,345.0 L1322.5,350.0 L1323.8,355.3 L1325.0,363.3 L1326.2,366.4 L1327.5,368.3 L1329.2,365.9 L1330.8,361.7 L1332.5,361.3 L1334.2,358.3 L1336.3,378.3 L1337.0,396.7 L1339.2,378.3 L1340.8,360.0 L1342.1,357.2 L1343.3,356.7 L1345.0,363.2 L1346.7,368.3 L1348.3,365.5 L1350.0,361.7 L1351.4,362.2 L1352.8,366.2 L1354.2,366.7 L1355.4,373.2 L1356.7,376.7 L1357.9,379.9 L1359.2,385.0 L1360.8,378.9 L1362.5,370.0 L1363.8,363.0 L1365.0,356.7 L1366.7,360.0 L1368.3,363.3 L1369.6,368.2 L1370.8,370.0 L1372.5,386.7 L1374.2,380.0 L1375.8,396.7 L1377.5,408.3 L1379.2,407.7 L1380.8,405.0 L1382.1,408.9 L1383.3,415.0 L1385.0,404.8 L1386.7,395.0 L1388.3,401.7 L1390.0,408.3 L1391.2,409.5 L1392.5,411.7 L1393.8,409.0 L1395.0,408.3 L1396.7,412.8 L1398.3,418.3 L1400.0,411.5 L1401.7,403.3 L1403.3,400.1 L1405.0,400.0 L1406.2,399.3 L1407.5,398.3 L1409.2,415.0 L1410.4,402.3 L1411.7,390.0 L1413.3,373.3 L1414.6,375.1 L1415.8,380.0 L1417.1,382.0 L1418.3,385.0 L1419.6,378.7 L1420.8,371.7 L1422.1,362.5 L1423.3,353.3 L1425.0,345.8 L1426.2,350.7 L1427.5,358.3 L1428.8,364.9 L1430.0,368.3 L1431.2,370.9 L1432.5,371.7 L1433.8,364.0 L1435.0,353.3 L1436.2,350.4 L1437.5,350.0 L1438.8,350.9 L1440.0,353.3 L1441.7,333.3 L1442.5,319.2 L1444.2,318.1 L1445.8,320.0 L1447.5,340.0 L1448.8,345.1 L1450.0,348.3 L1452.0,353.3 L1453.3,378.3 L1453.7,401.7 L1455.2,395.1 L1456.7,390.0 L1457.9,391.3 L1459.2,395.0 L1460.4,388.9 L1461.7,383.3 L1463.3,383.8 L1465.0,381.7 L1466.2,380.2 L1467.5,376.7 L1468.8,380.9 L1470.0,386.7 L1471.7,401.7 L1472.9,393.9 L1474.2,388.3 L1475.4,393.0 L1476.7,395.0 L1477.9,394.4 L1479.2,393.3 L1480.4,399.0 L1481.7,403.3 L1483.3,408.3 L1485.0,403.7 L1486.7,401.7 L1488.3,420.0 L1490.0,434.2 L1491.2,421.5 L1492.5,411.7 L1493.8,414.8 L1495.0,416.7 L1496.2,423.1 L1497.5,430.0 L1498.8,433.6 L1500.0,440.0 L1501.2,439.7 L1502.5,436.7 L1503.8,440.4 L1505.0,443.3 L1506.7,438.5 L1508.3,431.7 L1510.0,440.0 L1511.9,450.6 L1513.3,451.1 L1514.7,455.4 L1516.1,456.1 L1517.5,460.3 L1518.9,468.4 L1520.3,472.8 L1521.7,460.1 L1523.1,447.8 L1524.4,446.6 L1525.8,446.4 L1527.2,454.2 L1528.6,461.7 L1530.0,483.9 L1531.4,503.3 L1532.2,525.6 L1535.6,511.7 L1536.9,536.7 L1538.3,586.7 L1539.7,642.2 L1540.6,699.2 L1548.1,689.4 L1550.8,664.4 L1553.6,614.4 L1555.0,610.3 L1559.2,611.7 L1561.9,583.9 L1564.7,582.5 L1568.9,600.6 L1573.1,620.0 L1575.8,581.1 L1578.6,600.6 L1581.4,583.9 L1585.0,585.3 L1587.8,553.3 L1590.6,561.7 L1592.5,589.4" stroke="#1bcb88"/></g>
<g clip-path="url(#dn)"><path d="M236.5,659.5 L239.0,662.0 L241.5,670.0 L244.0,683.0 L246.5,688.0 L249.0,662.0 L251.5,640.5 L253.5,657.0 L256.0,672.0 L260.0,680.0 L266.0,676.0 L270.0,662.0 L275.0,657.0 L279.0,650.0 L282.5,642.0 L286.0,645.0 L291.0,645.5 L294.0,651.0 L297.5,643.5 L302.0,645.5 L305.0,660.0 L308.0,680.0 L312.0,695.0 L316.0,702.0 L316.5,750.0 L320.0,750.8 L324.0,742.0 L325.5,710.0 L330.0,708.0 L332.5,702.0 L336.0,690.0 L340.0,680.0 L345.0,665.0 L349.0,652.0 L352.0,665.0 L356.0,680.0 L360.0,695.0 L363.3,702.5 L366.7,710.0 L370.8,716.7 L373.3,725.0 L377.5,725.0 L380.0,716.7 L382.5,706.7 L385.8,700.0 L390.0,698.3 L392.5,683.3 L394.2,700.0 L396.7,733.3 L398.3,750.0 L399.7,750.8 L400.7,731.7 L402.5,753.3 L404.2,760.8 L405.4,756.5 L406.7,753.3 L407.9,758.0 L409.2,765.0 L410.4,765.9 L411.7,765.8 L413.3,750.0 L414.6,732.0 L415.8,716.7 L417.1,707.6 L418.3,698.3 L420.0,693.3 L421.7,699.6 L423.3,706.7 L424.7,701.9 L426.1,700.0 L427.5,696.7 L428.8,691.9 L430.0,690.0 L431.2,696.5 L432.5,703.3 L434.2,695.3 L435.8,690.0 L437.5,677.5 L439.2,681.6 L440.8,688.3 L442.1,684.8 L443.3,681.7 L445.0,691.9 L446.7,700.0 L448.3,713.8 L450.0,730.0 L451.7,735.8 L452.9,725.4 L454.2,716.7 L455.8,698.3 L457.1,703.7 L458.3,708.3 L459.6,717.3 L460.8,723.3 L462.5,724.4 L464.2,725.0 L465.4,716.3 L466.7,708.3 L468.3,699.0 L470.0,686.7 L471.2,683.5 L472.5,683.3 L473.8,687.8 L475.0,690.0 L476.3,678.3 L477.5,653.3 L478.9,652.4 L480.3,651.6 L481.7,652.5 L482.9,641.7 L484.2,633.3 L485.8,601.7 L487.1,596.9 L488.3,593.3 L489.6,588.5 L490.8,581.7 L492.1,584.0 L493.3,588.3 L495.0,584.4 L496.7,580.0 L497.9,584.6 L499.2,588.3 L500.4,580.4 L501.7,573.3 L502.9,557.7 L504.2,541.7 L505.8,528.3 L507.1,531.9 L508.3,538.3 L510.0,542.8 L511.7,550.0 L512.9,542.0 L514.2,535.8 L515.8,539.3 L517.5,541.7 L519.2,548.1 L520.8,555.0 L522.1,559.4 L523.3,565.0 L524.6,560.3 L525.8,555.0 L527.5,545.7 L529.2,536.7 L530.8,530.6 L532.5,525.8 L533.8,533.0 L535.0,538.3 L536.2,541.9 L537.5,544.2 L538.9,541.4 L540.3,540.5 L541.7,538.3 L543.1,536.7 L544.4,536.2 L545.8,533.3 L547.5,534.9 L549.2,535.0 L550.8,536.0 L552.5,538.3 L553.9,537.6 L555.3,532.7 L556.7,531.7 L558.3,533.9 L560.0,536.7 L561.7,544.2 L563.3,550.0 L565.0,540.6 L566.7,533.3 L568.3,537.5 L570.0,541.7 L571.2,545.2 L572.5,551.7 L574.2,548.0 L575.8,543.3 L577.5,543.8 L579.2,542.5 L580.8,547.3 L582.5,551.7 L583.8,557.9 L585.0,561.7 L586.7,556.9 L588.3,553.3 L589.6,561.5 L590.8,568.3 L592.5,571.1 L594.2,573.3 L595.8,579.4 L597.5,585.0 L599.2,582.4 L600.8,580.0 L602.1,585.3 L603.3,588.3 L604.6,583.1 L605.8,575.0 L607.1,564.9 L608.3,555.0 L609.6,548.0 L610.8,540.0 L612.1,539.4 L613.3,541.7 L615.0,554.8 L616.7,566.7 L617.9,561.3 L619.2,555.0 L620.8,546.2 L622.5,534.2 L624.2,538.1 L625.8,540.0 L627.5,552.2 L629.2,565.8 L630.8,558.4 L632.5,551.7 L633.9,552.2 L635.3,550.1 L636.7,551.7 L638.1,550.7 L639.4,548.9 L640.8,549.2 L642.5,542.5 L644.2,538.3 L645.8,527.8 L647.5,520.0 L648.8,529.2 L650.0,536.7 L651.7,538.0 L653.3,541.7 L655.0,545.9 L656.7,551.7 L658.3,557.2 L660.0,563.3 L661.2,574.5 L662.5,583.3 L663.8,589.1 L665.0,597.5 L666.2,590.3 L667.5,583.3 L669.2,586.0 L670.8,588.3 L672.5,582.5 L674.2,574.2 L675.4,591.4 L676.7,606.7 L678.3,622.5 L679.6,620.7 L680.8,616.7 L682.5,630.0 L683.8,633.5 L685.0,638.3 L686.7,635.6 L688.3,633.3 L689.7,634.0 L691.1,636.8 L692.5,636.7 L694.2,631.0 L695.8,622.5 L697.5,626.0 L699.2,631.7 L700.8,634.0 L702.5,638.3 L703.8,642.5 L705.0,648.3 L706.7,635.8 L708.3,625.0 L710.0,628.3 L711.7,631.7 L713.1,633.6 L714.4,634.2 L715.8,636.7 L717.2,631.2 L718.6,628.6 L720.0,625.0 L721.7,627.9 L723.3,631.7 L724.7,631.3 L726.1,632.0 L727.5,630.0 L729.2,638.9 L730.8,646.7 L732.1,650.0 L733.3,653.3 L735.0,656.2 L736.7,658.3 L737.9,662.2 L739.2,665.0 L740.6,662.7 L741.9,664.6 L743.3,662.5 L745.0,666.7 L746.2,657.6 L747.5,646.7 L748.8,646.2 L750.0,643.3 L751.2,627.6 L752.5,610.0 L754.2,609.7 L755.8,610.0 L757.5,573.3 L759.2,567.2 L760.8,561.7 L762.5,566.2 L764.2,573.3 L765.4,565.4 L766.7,556.7 L768.3,550.3 L770.0,546.7 L771.7,543.6 L773.3,543.3 L774.7,540.5 L776.1,538.4 L777.5,537.5 L778.8,542.4 L780.0,548.3 L781.7,560.0 L782.9,549.4 L784.2,541.7 L785.0,541.7 L786.7,542.6 L788.3,546.7 L790.0,543.3 L791.7,540.6 L793.3,540.0 L795.0,540.8 L796.7,544.2 L798.3,545.0 L800.0,546.7 L801.2,549.3 L802.5,555.0 L804.2,554.5 L805.8,551.7 L807.5,557.0 L809.2,561.7 L810.8,568.3 L812.1,557.2 L813.3,548.3 L814.6,547.5 L815.8,548.3 L817.5,546.7 L818.8,551.2 L820.0,556.7 L821.2,559.6 L822.5,563.3 L824.2,563.0 L825.8,565.0 L827.5,568.2 L829.2,569.2 L830.4,570.3 L831.7,568.3 L833.3,569.5 L835.0,570.8 L836.2,562.0 L837.5,553.3 L839.2,555.3 L840.8,560.0 L842.1,556.2 L843.3,555.0 L844.6,548.7 L845.8,543.3 L847.1,546.7 L848.3,551.7 L849.6,551.9 L850.8,550.0 L852.1,545.6 L853.3,543.3 L855.0,541.0 L856.7,541.7 L858.3,545.6 L860.0,546.7 L861.7,549.3 L863.3,551.7 L864.6,553.9 L865.8,558.3 L867.1,562.6 L868.3,566.7 L870.0,561.8 L871.7,560.0 L872.9,560.9 L874.2,561.7 L875.4,555.7 L876.7,546.7 L878.3,546.2 L880.0,543.3 L881.7,544.8 L883.3,545.0 L885.0,543.4 L886.7,543.3 L888.0,520.0 L890.0,495.0 L891.2,485.8 L892.5,477.5 L893.9,476.4 L895.3,478.4 L896.7,477.5 L898.3,476.4 L900.0,475.0 L901.4,477.0 L902.8,476.7 L904.2,478.3 L905.0,453.3 L906.4,421.3 L907.8,392.1 L909.2,360.0 L910.0,348.3 L911.7,349.1 L913.3,346.7 L915.0,360.0 L916.2,351.1 L917.5,340.0 L918.8,335.1 L920.0,328.3 L921.7,322.7 L923.3,315.0 L924.6,323.3 L925.8,330.0 L927.5,335.8 L929.2,343.3 L930.8,356.7 L932.5,343.3 L933.8,340.9 L935.0,338.3 L936.7,336.2 L938.3,335.0 L940.0,336.0 L941.7,340.0 L942.9,334.3 L944.2,331.7 L945.8,330.1 L947.5,330.0 L948.8,335.9 L950.0,343.3 L951.2,338.9 L952.5,333.3 L953.8,333.1 L955.0,330.0 L956.7,330.7 L958.3,331.7 L960.0,332.2 L961.7,330.0 L963.3,331.3 L965.0,330.9 L966.7,329.2 L968.3,303.3 L969.7,276.7 L970.9,276.0 L972.1,275.2 L973.3,275.8 L975.0,275.4 L976.7,276.7 L977.9,281.5 L979.2,288.3 L980.4,293.2 L981.7,300.0 L982.9,302.5 L984.2,304.2 L985.4,301.7 L986.7,296.7 L987.9,294.4 L989.2,290.0 L990.4,286.6 L991.7,283.3 L993.3,278.0 L995.0,271.7 L996.2,264.3 L997.5,255.0 L999.2,243.3 L1000.8,275.0 L1002.2,273.9 L1003.6,276.1 L1005.0,275.8 L1006.7,281.7 L1007.9,292.1 L1009.2,300.0 L1010.4,313.4 L1011.7,325.0 L1013.3,321.6 L1015.0,316.7 L1016.2,312.4 L1017.5,308.3 L1018.8,309.8 L1020.0,313.3 L1021.2,310.1 L1022.5,305.0 L1024.2,304.9 L1025.8,305.8 L1027.5,276.7 L1028.3,243.3 L1029.7,225.0 L1031.3,243.3 L1032.5,256.7 L1033.7,236.7 L1035.8,243.3 L1037.1,248.5 L1038.3,251.7 L1040.0,254.8 L1041.7,255.0 L1043.3,258.8 L1045.0,263.3 L1046.2,265.5 L1047.5,268.3 L1049.2,269.2 L1050.8,267.9 L1052.5,266.7 L1054.2,276.7 L1055.8,300.0 L1057.1,293.1 L1058.3,288.3 L1059.6,288.0 L1060.8,290.0 L1062.1,283.9 L1063.3,280.0 L1065.0,278.8 L1066.7,275.0 L1068.3,275.1 L1070.0,273.3 L1071.2,267.2 L1072.5,263.3 L1073.8,258.3 L1075.2,262.7 L1076.7,265.0 L1077.9,270.7 L1079.2,273.3 L1080.8,285.0 L1082.1,283.0 L1083.3,280.0 L1085.3,268.3 L1087.5,278.3 L1088.8,283.7 L1090.0,290.0 L1091.2,296.8 L1092.5,303.3 L1093.7,310.0 L1095.2,302.2 L1096.7,296.7 L1098.3,294.3 L1100.0,295.0 L1101.2,300.7 L1102.5,303.3 L1104.2,303.8 L1105.8,303.3 L1107.5,305.9 L1109.2,308.3 L1110.4,308.9 L1111.7,306.7 L1113.3,308.1 L1115.0,310.0 L1116.4,310.6 L1117.8,309.9 L1119.2,308.3 L1120.8,306.6 L1122.5,306.7 L1123.3,326.7 L1124.2,348.3 L1125.4,350.9 L1126.7,355.0 L1127.9,356.8 L1129.2,360.0 L1130.8,370.8 L1132.1,362.9 L1133.3,356.7 L1135.0,352.8 L1136.7,348.3 L1137.9,353.4 L1139.2,360.0 L1140.4,361.4 L1141.7,363.3 L1142.9,356.3 L1144.2,351.7 L1145.6,350.8 L1146.9,346.8 L1148.3,345.0 L1150.0,348.2 L1151.7,351.7 L1153.3,353.6 L1155.0,355.0 L1156.7,358.0 L1158.3,358.3 L1159.7,358.9 L1161.1,361.3 L1162.5,360.8 L1164.2,343.3 L1165.8,330.0 L1167.5,325.8 L1169.2,321.7 L1170.6,317.9 L1171.9,314.0 L1173.3,310.0 L1174.6,300.1 L1175.8,293.3 L1177.5,280.0 L1179.7,303.3 L1181.7,298.3 L1182.9,305.6 L1184.2,313.3 L1185.4,319.0 L1186.7,326.7 L1187.9,325.9 L1189.2,328.3 L1190.8,321.0 L1192.5,311.7 L1193.8,314.0 L1195.0,318.3 L1196.7,316.6 L1198.3,315.0 L1200.0,313.3 L1201.7,309.1 L1203.3,303.3 L1205.0,302.7 L1206.7,301.7 L1207.9,296.1 L1209.2,291.7 L1210.8,290.0 L1212.5,300.0 L1213.8,298.4 L1215.0,296.7 L1216.2,300.2 L1217.5,303.3 L1219.2,313.3 L1220.8,333.3 L1222.0,351.7 L1223.3,353.1 L1224.6,351.5 L1225.8,353.3 L1227.0,370.0 L1229.2,386.7 L1230.8,394.4 L1232.5,401.7 L1234.2,407.5 L1235.8,415.0 L1237.0,427.5 L1239.2,416.7 L1240.8,418.5 L1242.5,421.7 L1244.2,416.7 L1245.4,422.5 L1246.7,426.7 L1248.1,428.1 L1249.4,429.6 L1250.8,430.8 L1252.1,427.1 L1253.3,421.7 L1254.6,418.0 L1255.8,411.7 L1257.5,405.0 L1258.9,404.0 L1260.3,403.7 L1261.7,402.5 L1262.9,396.3 L1264.2,390.0 L1265.3,361.7 L1266.3,341.7 L1268.3,337.5 L1269.6,341.3 L1270.8,345.0 L1272.5,360.0 L1274.2,345.0 L1275.4,349.0 L1276.7,351.7 L1277.9,355.7 L1279.2,360.0 L1280.4,359.3 L1281.7,358.3 L1282.9,353.3 L1284.2,348.3 L1285.4,354.7 L1286.7,358.3 L1288.1,361.7 L1289.4,365.1 L1290.8,366.7 L1292.5,372.2 L1294.2,375.0 L1295.8,366.7 L1297.5,360.0 L1299.2,353.3 L1300.4,357.7 L1301.7,361.7 L1302.9,359.8 L1304.2,355.0 L1305.4,353.6 L1306.7,350.0 L1308.3,353.8 L1310.0,360.0 L1311.7,354.6 L1313.3,351.7 L1315.0,348.1 L1316.7,345.0 L1317.9,342.0 L1319.2,341.7 L1320.8,345.0 L1322.5,350.0 L1323.8,355.3 L1325.0,363.3 L1326.2,366.4 L1327.5,368.3 L1329.2,365.9 L1330.8,361.7 L1332.5,361.3 L1334.2,358.3 L1336.3,378.3 L1337.0,396.7 L1339.2,378.3 L1340.8,360.0 L1342.1,357.2 L1343.3,356.7 L1345.0,363.2 L1346.7,368.3 L1348.3,365.5 L1350.0,361.7 L1351.4,362.2 L1352.8,366.2 L1354.2,366.7 L1355.4,373.2 L1356.7,376.7 L1357.9,379.9 L1359.2,385.0 L1360.8,378.9 L1362.5,370.0 L1363.8,363.0 L1365.0,356.7 L1366.7,360.0 L1368.3,363.3 L1369.6,368.2 L1370.8,370.0 L1372.5,386.7 L1374.2,380.0 L1375.8,396.7 L1377.5,408.3 L1379.2,407.7 L1380.8,405.0 L1382.1,408.9 L1383.3,415.0 L1385.0,404.8 L1386.7,395.0 L1388.3,401.7 L1390.0,408.3 L1391.2,409.5 L1392.5,411.7 L1393.8,409.0 L1395.0,408.3 L1396.7,412.8 L1398.3,418.3 L1400.0,411.5 L1401.7,403.3 L1403.3,400.1 L1405.0,400.0 L1406.2,399.3 L1407.5,398.3 L1409.2,415.0 L1410.4,402.3 L1411.7,390.0 L1413.3,373.3 L1414.6,375.1 L1415.8,380.0 L1417.1,382.0 L1418.3,385.0 L1419.6,378.7 L1420.8,371.7 L1422.1,362.5 L1423.3,353.3 L1425.0,345.8 L1426.2,350.7 L1427.5,358.3 L1428.8,364.9 L1430.0,368.3 L1431.2,370.9 L1432.5,371.7 L1433.8,364.0 L1435.0,353.3 L1436.2,350.4 L1437.5,350.0 L1438.8,350.9 L1440.0,353.3 L1441.7,333.3 L1442.5,319.2 L1444.2,318.1 L1445.8,320.0 L1447.5,340.0 L1448.8,345.1 L1450.0,348.3 L1452.0,353.3 L1453.3,378.3 L1453.7,401.7 L1455.2,395.1 L1456.7,390.0 L1457.9,391.3 L1459.2,395.0 L1460.4,388.9 L1461.7,383.3 L1463.3,383.8 L1465.0,381.7 L1466.2,380.2 L1467.5,376.7 L1468.8,380.9 L1470.0,386.7 L1471.7,401.7 L1472.9,393.9 L1474.2,388.3 L1475.4,393.0 L1476.7,395.0 L1477.9,394.4 L1479.2,393.3 L1480.4,399.0 L1481.7,403.3 L1483.3,408.3 L1485.0,403.7 L1486.7,401.7 L1488.3,420.0 L1490.0,434.2 L1491.2,421.5 L1492.5,411.7 L1493.8,414.8 L1495.0,416.7 L1496.2,423.1 L1497.5,430.0 L1498.8,433.6 L1500.0,440.0 L1501.2,439.7 L1502.5,436.7 L1503.8,440.4 L1505.0,443.3 L1506.7,438.5 L1508.3,431.7 L1510.0,440.0 L1511.9,450.6 L1513.3,451.1 L1514.7,455.4 L1516.1,456.1 L1517.5,460.3 L1518.9,468.4 L1520.3,472.8 L1521.7,460.1 L1523.1,447.8 L1524.4,446.6 L1525.8,446.4 L1527.2,454.2 L1528.6,461.7 L1530.0,483.9 L1531.4,503.3 L1532.2,525.6 L1535.6,511.7 L1536.9,536.7 L1538.3,586.7 L1539.7,642.2 L1540.6,699.2 L1548.1,689.4 L1550.8,664.4 L1553.6,614.4 L1555.0,610.3 L1559.2,611.7 L1561.9,583.9 L1564.7,582.5 L1568.9,600.6 L1573.1,620.0 L1575.8,581.1 L1578.6,600.6 L1581.4,583.9 L1585.0,585.3 L1587.8,553.3 L1590.6,561.7 L1592.5,589.4" stroke="#ea3943"/></g>
</g>
<!-- marker -->
<circle cx="1540" cy="701.5" r="9.6" fill="#ea3943" stroke="#fff" stroke-width="2.4"/>
<!-- crosshair -->
<line x1="1541.2" y1="82.5" x2="1541.2" y2="966" stroke="#b9c0cf" stroke-width="2.4" stroke-dasharray="2.4 7.933"/>
<line x1="238.2" y1="789.2" x2="1596" y2="789.2" stroke="#b9c0cf" stroke-width="2.4" stroke-dasharray="2.4 7.933"/>
<!-- watermark -->
<text x="1557.2" y="857.7" text-anchor="end" font-family="Liberation Sans, sans-serif" font-weight="bold" font-size="37" letter-spacing="1.2" fill="#d6dae8" stroke="#d6dae8" stroke-width="0.9">CoinMarketC<tspan dx="1.6">ap</tspan></text>
</svg>

<!-- 405 label -->
<div class="abs" style="left:33.5px;top:608px;width:150px;height:58px;border-radius:11px;background:rgba(34,37,49,.9);"></div>
<div class="abs ax" style="left:45.5px;top:619.5px;color:#a6abc0;letter-spacing:0.55px;font-size:30px;-webkit-text-stroke:0.55px #a6abc0;">405.8169</div>

<!-- axis labels -->
<div class="abs ax" style="left:1402.3px;top:182px;">550</div>
<div class="abs ax" style="left:1402.3px;top:332px;">500</div>
<div class="abs ax" style="left:1402.3px;top:484px;">450</div>
<div class="abs ax" style="left:1402.3px;top:634px;">400</div>
<div class="abs ax" style="left:1402.3px;top:784px;">350</div>
<div class="abs ax" style="left:1418px;top:906px;font-weight:bold;letter-spacing:0.6px;font-size:29.5px;">USD</div>

<div class="badge" style="left:1387px;top:519.5px;width:79px;height:64.5px;background:#16c784;"><span style="position:relative;top:17px;left:1.5px;">431</span></div>
<div class="badge" style="left:1387px;top:719px;width:79px;height:63.5px;background:#808a9d;"><span style="position:relative;top:17px;left:3.3px;letter-spacing:2.2px;">365</span></div>

<!-- x labels -->
<div class="abs ax" style="left:348px;top:956px;letter-spacing:0.5px;font-size:29.5px;">22 Dec</div>
<div class="abs ax" style="left:719px;top:956px;letter-spacing:0.5px;font-size:29.5px;">29 Dec</div>

<!-- date badge -->
<div class="abs" style="left:1094px;top:931px;width:289px;height:74px;border-radius:6px;background:#808a9d;"></div>
<div class="abs" style="left:1115px;top:954.5px;color:#fff;font-size:29px;line-height:30px;letter-spacing:0.5px;-webkit-text-stroke:0.4px #fff;">8 Jan '26 17:00:00</div>

<!-- bottom cropped controls -->
<div class="abs" style="left:45.3px;top:996px;width:92px;height:60px;border-radius:17.3px;background:#676b85;"></div>
<div class="abs" style="left:1170.5px;top:997.4px;width:208.5px;height:60px;border-radius:19px;background:#3861fb;"></div>
<svg viewBox="0 0 1920 1080">
<path d="M1470,1036 L1482.9,1023.6 L1496,1036Z" fill="#3861fb"/>
<path d="M1495.5,1044.5 L1517.5,1023 L1540.5,1044.5Z" fill="#16c784"/>
<circle cx="1680" cy="1103.8" r="70" fill="#e1e4ea"/>
</svg>

<!-- tooltip -->
<div id="tip">
<div class="abs" style="left:41px;top:49px;color:#fff;font-weight:bold;font-size:31.5px;line-height:32px;letter-spacing:1.9px;-webkit-text-stroke:0.4px #fff;">01/08/2026</div>
<div class="abs" style="right:39.5px;top:50px;color:#a1a7bb;font-size:29.5px;line-height:30px;letter-spacing:0.95px;-webkit-text-stroke:0.4px #a1a7bb;">5:00:00 PM</div>
<div class="abs" style="left:41.5px;top:110.3px;width:26px;height:26px;border-radius:50%;background:#ea3943;border:5px solid #fff;"></div>
<div class="abs" style="left:97px;top:113.5px;color:#a1a7bb;font-size:30.5px;line-height:30px;letter-spacing:0.9px;-webkit-text-stroke:0.4px #a1a7bb;">Price:</div>
<div class="abs" style="left:189px;top:113px;color:#fff;font-weight:bold;font-size:32px;line-height:30px;letter-spacing:1.8px;-webkit-text-stroke:0.4px #fff;">$394.25</div>
<svg style="position:absolute;left:38px;top:166.5px;width:43px;height:37px;" viewBox="0 0 43 37">
<path d="M1,1 H42 V17.5 L21.5,36 L1,17.5 Z" fill="#fff" stroke="#fff" stroke-width="1.6" stroke-linejoin="round"/>
<path d="M5.4,4.2 H37.6 V15.8 L21.5,30.2 L5.4,15.8Z" fill="#a4acc2"/>
<path d="M14.2,11.4 Q14.2,9.4 16.4,9.4 H26.6 Q28.8,9.4 28.8,11.4 Q28.8,14.5 21.5,21.5 Q14.2,14.5 14.2,11.4Z" fill="#fff"/>
</svg>
<div class="abs" style="left:99.5px;top:173.5px;color:#a1a7bb;font-size:30.5px;line-height:30px;letter-spacing:1.15px;-webkit-text-stroke:0.4px #a1a7bb;">Vol 24h:</div>
<div class="abs" style="left:225.5px;top:173px;color:#fff;font-weight:bold;font-size:32px;line-height:30px;letter-spacing:0px;-webkit-text-stroke:0.4px #fff;">$1.04B</div>
</div>
</div>
</body>
</html>
